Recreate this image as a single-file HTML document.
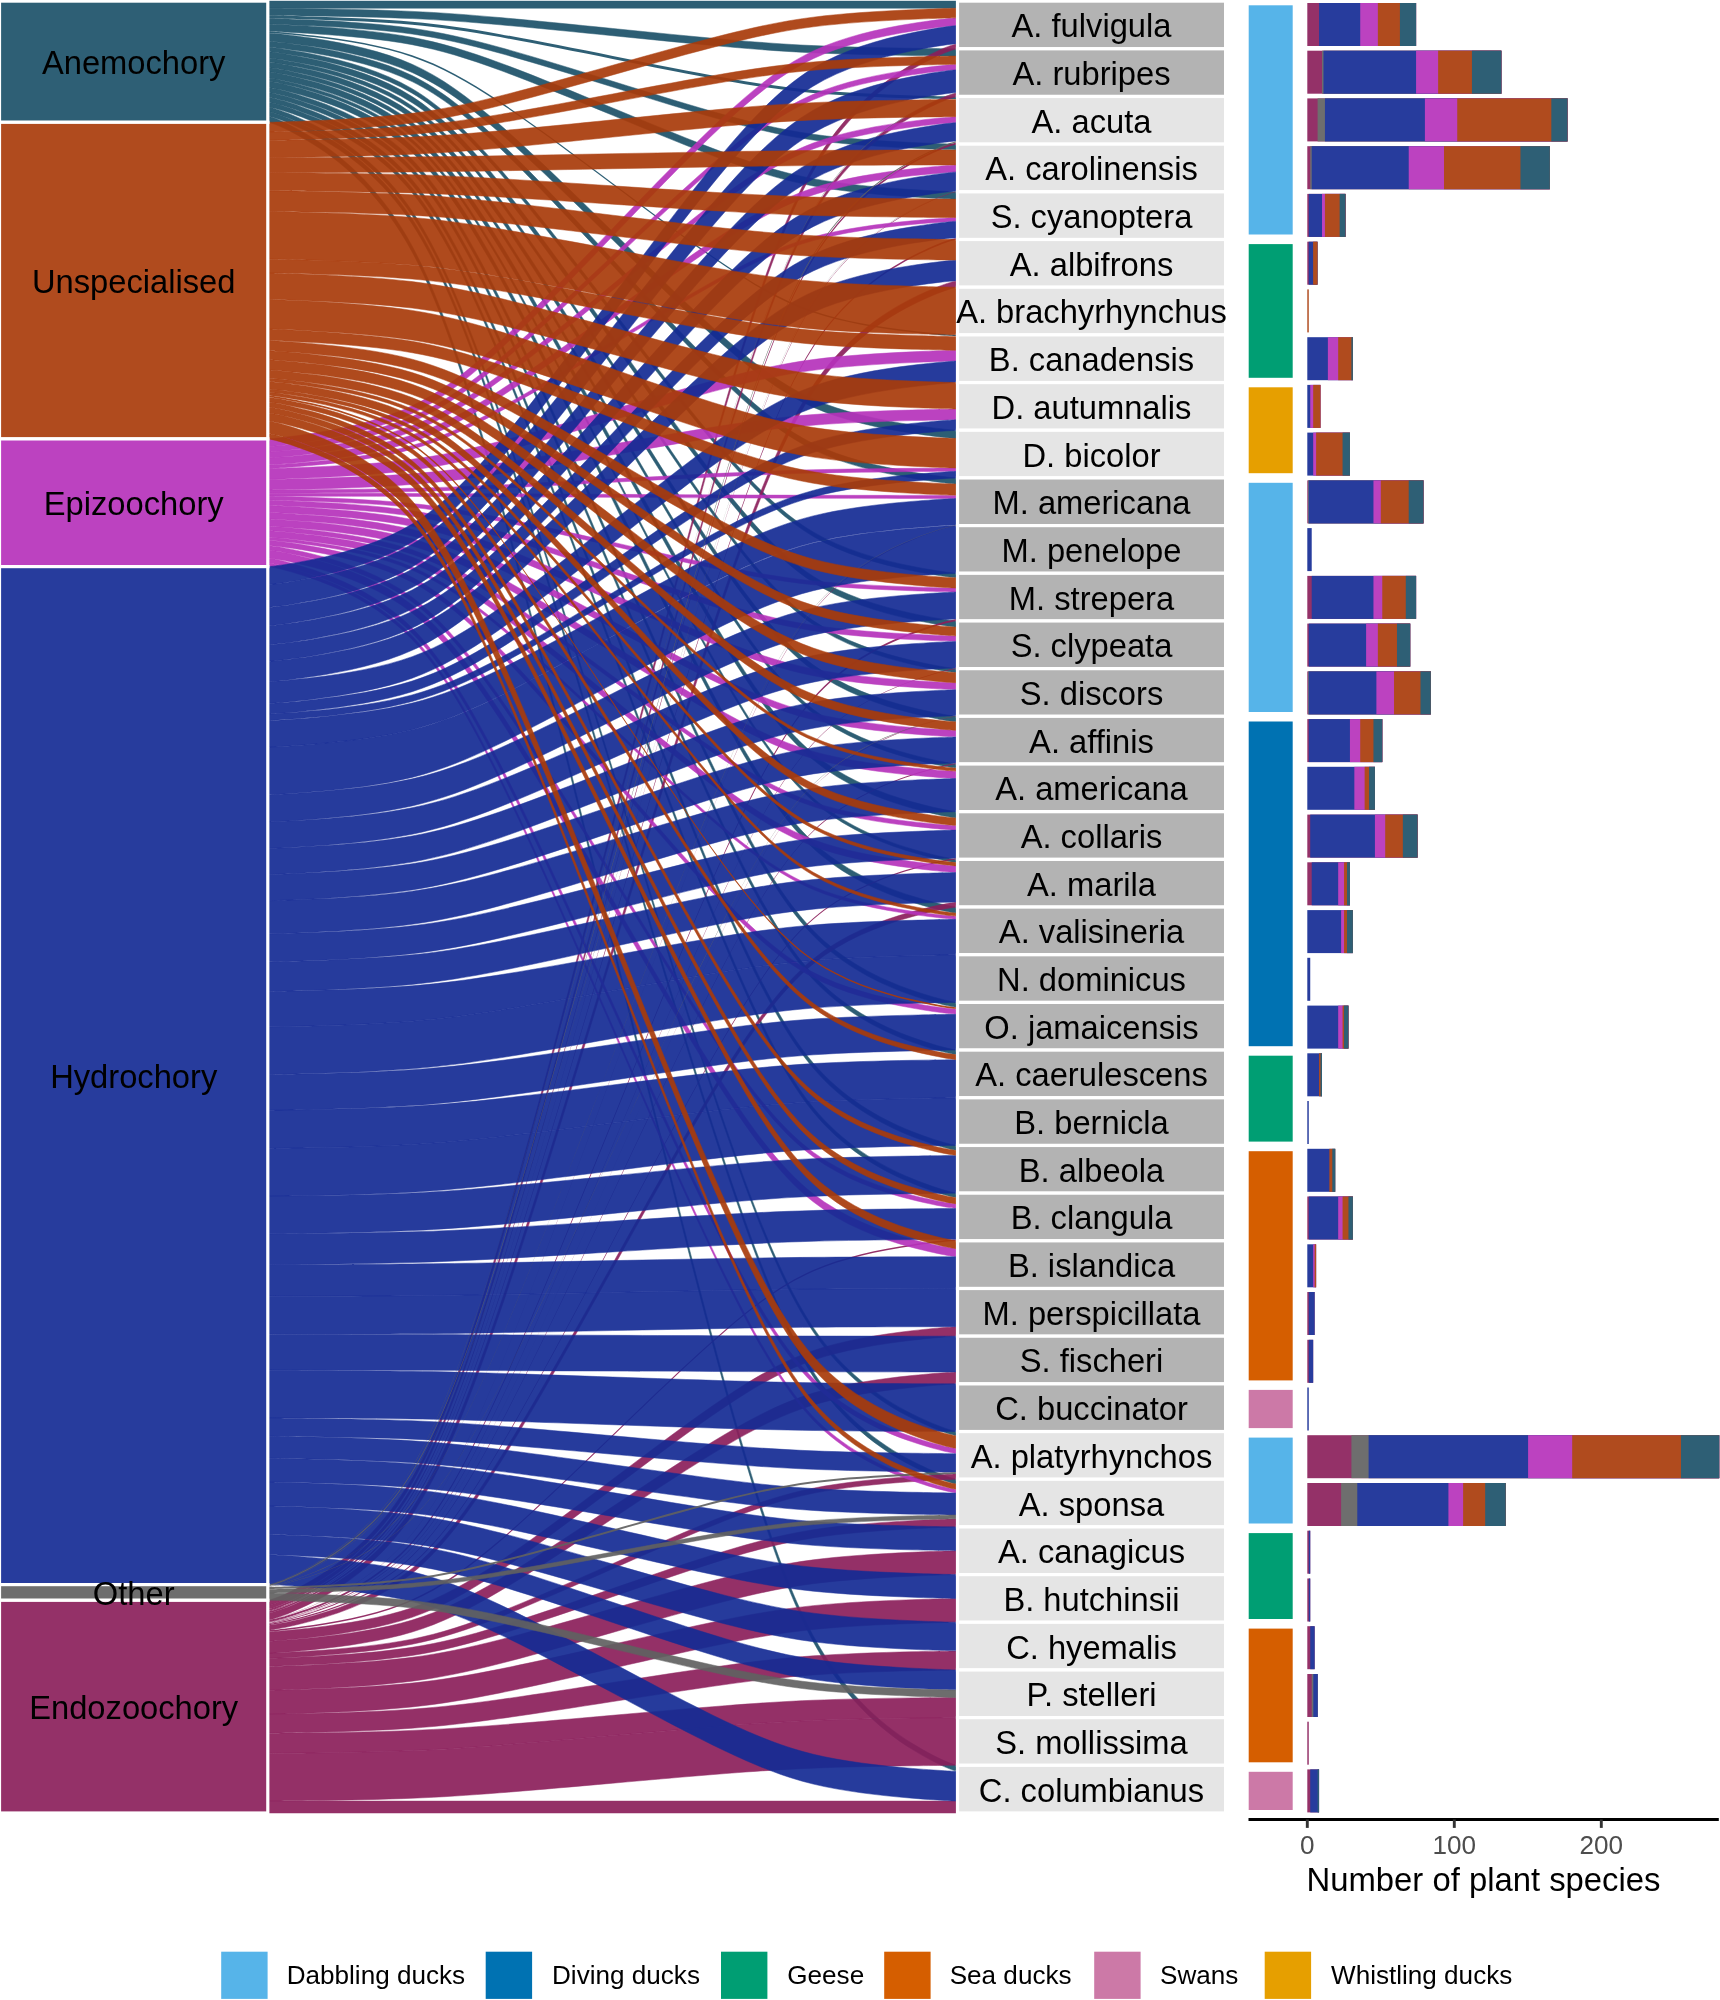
<!DOCTYPE html>
<html lang="en"><head><meta charset="utf-8"><title>Dispersal syndromes of plants consumed by waterfowl</title>
<style>html,body{margin:0;padding:0;background:#fff}body{width:1720px;height:2000px;overflow:hidden}svg{display:block}text{font-family:"Liberation Sans",Arial,Helvetica,sans-serif}.b{font-size:32.7px;fill:#000;text-anchor:middle}.s{font-size:26.1px;fill:#000}.t{font-size:26.1px;fill:#4d4d4d;text-anchor:middle}.f path{opacity:0.92;stroke-width:0.5}.f path.n{stroke:none}</style></head><body>
<svg width="1720" height="2000" viewBox="0 0 1720 2000">
<rect width="1720" height="2000" fill="#fff"/>
<g class="f" fill="#1C5169" stroke="#1C5169">
<path d="M267.8,1.1L957.5,1.1L957.5,8.19L267.8,8.19Z"/>
<path d="M267.8,8.19C267.8,8.19 280.1,8.23 313.2,8.73C346.2,9.23 383.1,10.06 412.1,11.38C441,12.7 467.3,14.66 500.1,17.57C532.8,20.49 572.2,24.43 612.7,28.48C653.1,32.54 692.5,36.48 725.2,39.4C758,42.31 784.3,44.27 813.2,45.59C842.2,46.91 879.1,47.74 912.1,48.24C945.2,48.74 957.5,48.78 957.5,48.78L957.5,56.01C957.5,56.01 945.2,55.97 912.1,55.47C879.1,54.97 842.2,54.14 813.2,52.81C784.3,51.49 758,49.54 725.2,46.62C692.5,43.71 653.1,39.76 612.7,35.71C572.2,31.66 532.8,27.71 500.1,24.8C467.3,21.88 441,19.93 412.1,18.6C383.1,17.28 346.2,16.45 313.2,15.95C280.1,15.45 267.8,15.41 267.8,15.41Z"/>
<path d="M267.8,15.41C267.8,15.41 280.1,15.49 313.2,16.49C346.2,17.49 383.1,19.15 412.1,21.78C441,24.42 467.3,28.33 500.1,34.15C532.8,39.97 572.2,47.84 612.7,55.94C653.1,64.03 692.5,71.91 725.2,77.73C758,83.55 784.3,87.45 813.2,90.09C842.2,92.73 879.1,94.39 912.1,95.38C945.2,96.38 957.5,96.46 957.5,96.46L957.5,99.43C957.5,99.43 945.2,99.35 912.1,98.35C879.1,97.35 842.2,95.69 813.2,93.05C784.3,90.41 758,86.51 725.2,80.69C692.5,74.87 653.1,67 612.7,58.9C572.2,50.81 532.8,42.93 500.1,37.11C467.3,31.29 441,27.39 412.1,24.75C383.1,22.11 346.2,20.45 313.2,19.45C280.1,18.46 267.8,18.38 267.8,18.38Z" class="n"/>
<path d="M267.8,18.38C267.8,18.38 280.1,18.5 313.2,20.05C346.2,21.6 383.1,24.17 412.1,28.26C441,32.36 467.3,38.42 500.1,47.45C532.8,56.48 572.2,68.7 612.7,81.26C653.1,93.82 692.5,106.04 725.2,115.07C758,124.1 784.3,130.16 813.2,134.26C842.2,138.35 879.1,140.92 912.1,142.47C945.2,144.02 957.5,144.14 957.5,144.14L957.5,149.92C957.5,149.92 945.2,149.8 912.1,148.25C879.1,146.7 842.2,144.13 813.2,140.04C784.3,135.94 758,129.88 725.2,120.85C692.5,111.82 653.1,99.6 612.7,87.04C572.2,74.48 532.8,62.25 500.1,53.23C467.3,44.2 441,38.14 412.1,34.04C383.1,29.95 346.2,27.38 313.2,25.83C280.1,24.28 267.8,24.16 267.8,24.16Z"/>
<path d="M267.8,24.16C267.8,24.16 280.1,24.32 313.2,26.39C346.2,28.45 383.1,31.88 412.1,37.34C441,42.8 467.3,50.87 500.1,62.91C532.8,74.95 572.2,91.25 612.7,107.99C653.1,124.73 692.5,141.03 725.2,153.07C758,165.11 784.3,173.18 813.2,178.64C842.2,184.1 879.1,187.53 912.1,189.59C945.2,191.66 957.5,191.83 957.5,191.83L957.5,199.16C957.5,199.16 945.2,199 912.1,196.93C879.1,194.86 842.2,191.44 813.2,185.98C784.3,180.52 758,172.44 725.2,160.41C692.5,148.37 653.1,132.07 612.7,115.33C572.2,98.58 532.8,82.28 500.1,70.25C467.3,58.21 441,50.13 412.1,44.67C383.1,39.21 346.2,35.79 313.2,33.72C280.1,31.66 267.8,31.49 267.8,31.49Z"/>
<path d="M267.8,31.49C267.8,31.49 280.1,31.79 313.2,35.53C346.2,39.27 383.1,45.47 412.1,55.34C441,65.22 467.3,79.83 500.1,101.61C532.8,123.4 572.2,152.88 612.7,183.18C653.1,213.48 692.5,242.97 725.2,264.75C758,286.53 784.3,301.14 813.2,311.02C842.2,320.9 879.1,327.1 912.1,330.83C945.2,334.57 957.5,334.87 957.5,334.87L957.5,336.41C957.5,336.41 945.2,336.11 912.1,332.37C879.1,328.63 842.2,322.43 813.2,312.56C784.3,302.68 758,288.07 725.2,266.29C692.5,244.5 653.1,215.02 612.7,184.72C572.2,154.42 532.8,124.93 500.1,103.15C467.3,81.37 441,66.76 412.1,56.88C383.1,47 346.2,40.8 313.2,37.07C280.1,33.33 267.8,33.03 267.8,33.03Z" class="n"/>
<path d="M267.8,33.03C267.8,33.03 280.1,33.42 313.2,38.32C346.2,43.21 383.1,51.33 412.1,64.26C441,77.19 467.3,96.32 500.1,124.84C532.8,153.36 572.2,191.97 612.7,231.63C653.1,271.3 692.5,309.91 725.2,338.42C758,366.94 784.3,386.07 813.2,399C842.2,411.94 879.1,420.05 912.1,424.95C945.2,429.84 957.5,430.23 957.5,430.23L957.5,438.46C957.5,438.46 945.2,438.06 912.1,433.17C879.1,428.27 842.2,420.16 813.2,407.22C784.3,394.29 758,375.16 725.2,346.65C692.5,318.13 653.1,279.52 612.7,239.85C572.2,200.19 532.8,161.58 500.1,133.06C467.3,104.54 441,85.41 412.1,72.48C383.1,59.55 346.2,51.43 313.2,46.54C280.1,41.64 267.8,41.25 267.8,41.25Z"/>
<path d="M267.8,41.25C267.8,41.25 280.1,41.68 313.2,47.06C346.2,52.44 383.1,61.36 412.1,75.58C441,89.8 467.3,110.83 500.1,142.18C532.8,173.53 572.2,215.98 612.7,259.58C653.1,303.19 692.5,345.63 725.2,376.98C758,408.34 784.3,429.36 813.2,443.58C842.2,457.8 879.1,466.72 912.1,472.1C945.2,477.48 957.5,477.92 957.5,477.92L957.5,483.95C957.5,483.95 945.2,483.52 912.1,478.14C879.1,472.76 842.2,463.84 813.2,449.62C784.3,435.4 758,414.37 725.2,383.02C692.5,351.67 653.1,309.23 612.7,265.62C572.2,222.01 532.8,179.57 500.1,148.22C467.3,116.87 441,95.84 412.1,81.62C383.1,67.4 346.2,58.48 313.2,53.1C280.1,47.72 267.8,47.29 267.8,47.29Z"/>
<path d="M267.8,47.29C267.8,47.29 280.1,47.81 313.2,54.29C346.2,60.77 383.1,71.51 412.1,88.64C441,105.77 467.3,131.1 500.1,168.86C532.8,206.63 572.2,257.75 612.7,310.28C653.1,362.81 692.5,413.94 725.2,451.7C758,489.46 784.3,514.8 813.2,531.92C842.2,549.05 879.1,559.8 912.1,566.28C945.2,572.76 957.5,573.28 957.5,573.28L957.5,577.79C957.5,577.79 945.2,577.27 912.1,570.79C879.1,564.31 842.2,553.56 813.2,536.43C784.3,519.31 758,493.97 725.2,456.21C692.5,418.45 653.1,367.32 612.7,314.79C572.2,262.27 532.8,211.14 500.1,173.37C467.3,135.61 441,110.28 412.1,93.15C383.1,76.02 346.2,65.28 313.2,58.8C280.1,52.32 267.8,51.8 267.8,51.8Z"/>
<path d="M267.8,51.8C267.8,51.8 280.1,52.36 313.2,59.37C346.2,66.38 383.1,78.01 412.1,96.55C441,115.08 467.3,142.49 500.1,183.35C532.8,224.22 572.2,279.54 612.7,336.38C653.1,393.22 692.5,448.54 725.2,489.4C758,530.27 784.3,557.68 813.2,576.21C842.2,594.74 879.1,606.37 912.1,613.38C945.2,620.39 957.5,620.96 957.5,620.96L957.5,627.09C957.5,627.09 945.2,626.52 912.1,619.51C879.1,612.5 842.2,600.87 813.2,582.34C784.3,563.81 758,536.4 725.2,495.53C692.5,454.67 653.1,399.35 612.7,342.51C572.2,285.67 532.8,230.35 500.1,189.48C467.3,148.62 441,121.21 412.1,102.68C383.1,84.14 346.2,72.51 313.2,65.5C280.1,58.49 267.8,57.93 267.8,57.93Z"/>
<path d="M267.8,57.93C267.8,57.93 280.1,58.53 313.2,66.06C346.2,73.58 383.1,86.06 412.1,105.94C441,125.83 467.3,155.24 500.1,199.09C532.8,242.93 572.2,302.3 612.7,363.28C653.1,424.27 692.5,483.64 725.2,527.48C758,571.33 784.3,600.74 813.2,620.62C842.2,640.51 879.1,652.99 912.1,660.51C945.2,668.03 957.5,668.64 957.5,668.64L957.5,672.62C957.5,672.62 945.2,672.01 912.1,664.49C879.1,656.96 842.2,644.48 813.2,624.6C784.3,604.71 758,575.3 725.2,531.45C692.5,487.61 653.1,428.25 612.7,367.26C572.2,306.27 532.8,246.91 500.1,203.06C467.3,159.21 441,129.8 412.1,109.92C383.1,90.03 346.2,77.55 313.2,70.03C280.1,62.51 267.8,61.9 267.8,61.9Z"/>
<path d="M267.8,61.9C267.8,61.9 280.1,62.55 313.2,70.61C346.2,78.67 383.1,92.04 412.1,113.35C441,134.66 467.3,166.18 500.1,213.16C532.8,260.15 572.2,323.76 612.7,389.11C653.1,454.46 692.5,518.08 725.2,565.06C758,612.04 784.3,643.56 813.2,664.87C842.2,686.18 879.1,699.55 912.1,707.61C945.2,715.67 957.5,716.32 957.5,716.32L957.5,721.93C957.5,721.93 945.2,721.28 912.1,713.22C879.1,705.16 842.2,691.79 813.2,670.48C784.3,649.17 758,617.65 725.2,570.67C692.5,523.69 653.1,460.07 612.7,394.72C572.2,329.37 532.8,265.76 500.1,218.77C467.3,171.79 441,140.27 412.1,118.96C383.1,97.65 346.2,84.28 313.2,76.22C280.1,68.16 267.8,67.51 267.8,67.51Z"/>
<path d="M267.8,67.51C267.8,67.51 280.1,68.2 313.2,76.78C346.2,85.36 383.1,99.59 412.1,122.27C441,144.95 467.3,178.49 500.1,228.5C532.8,278.5 572.2,346.2 612.7,415.76C653.1,485.31 692.5,553.01 725.2,603.02C758,653.02 784.3,686.56 813.2,709.24C842.2,731.92 879.1,746.15 912.1,754.73C945.2,763.31 957.5,764.01 957.5,764.01L957.5,768.15C957.5,768.15 945.2,767.46 912.1,758.88C879.1,750.3 842.2,736.07 813.2,713.39C784.3,690.71 758,657.17 725.2,607.16C692.5,557.16 653.1,489.46 612.7,419.9C572.2,350.35 532.8,282.65 500.1,232.64C467.3,182.64 441,149.1 412.1,126.42C383.1,103.74 346.2,89.51 313.2,80.93C280.1,72.35 267.8,71.66 267.8,71.66Z"/>
<path d="M267.8,71.66C267.8,71.66 280.1,72.39 313.2,81.51C346.2,90.62 383.1,105.74 412.1,129.84C441,153.94 467.3,189.58 500.1,242.71C532.8,295.84 572.2,367.77 612.7,441.67C653.1,515.57 692.5,587.51 725.2,640.64C758,693.77 784.3,729.41 813.2,753.5C842.2,777.6 879.1,792.72 912.1,801.84C945.2,810.95 957.5,811.69 957.5,811.69L957.5,818.04C957.5,818.04 945.2,817.31 912.1,808.19C879.1,799.08 842.2,783.96 813.2,759.86C784.3,735.76 758,700.12 725.2,646.99C692.5,593.86 653.1,521.93 612.7,448.03C572.2,374.13 532.8,302.19 500.1,249.06C467.3,195.93 441,160.3 412.1,136.2C383.1,112.1 346.2,96.98 313.2,87.86C280.1,78.75 267.8,78.01 267.8,78.01Z"/>
<path d="M267.8,78.01C267.8,78.01 280.1,78.79 313.2,88.42C346.2,98.04 383.1,114 412.1,139.45C441,164.89 467.3,202.52 500.1,258.62C532.8,314.71 572.2,390.66 612.7,468.69C653.1,546.72 692.5,622.67 725.2,678.77C758,734.86 784.3,772.49 813.2,797.93C842.2,823.38 879.1,839.34 912.1,848.97C945.2,858.59 957.5,859.37 957.5,859.37L957.5,862.66C957.5,862.66 945.2,861.88 912.1,852.25C879.1,842.63 842.2,826.67 813.2,801.22C784.3,775.78 758,738.15 725.2,682.05C692.5,625.96 653.1,550.01 612.7,471.98C572.2,393.95 532.8,318 500.1,261.9C467.3,205.81 441,168.18 412.1,142.74C383.1,117.29 346.2,101.33 313.2,91.7C280.1,82.08 267.8,81.3 267.8,81.3Z"/>
<path d="M267.8,81.3C267.8,81.3 280.1,82.12 313.2,92.29C346.2,102.47 383.1,119.34 412.1,146.23C441,173.11 467.3,212.88 500.1,272.16C532.8,331.45 572.2,411.71 612.7,494.18C653.1,576.64 692.5,656.9 725.2,716.19C758,775.47 784.3,815.24 813.2,842.13C842.2,869.01 879.1,885.89 912.1,896.06C945.2,906.23 957.5,907.05 957.5,907.05L957.5,913.2C957.5,913.2 945.2,912.38 912.1,902.21C879.1,892.04 842.2,875.17 813.2,848.28C784.3,821.39 758,781.62 725.2,722.34C692.5,663.05 653.1,582.79 612.7,500.33C572.2,417.87 532.8,337.6 500.1,278.32C467.3,219.03 441,179.27 412.1,152.38C383.1,125.49 346.2,108.62 313.2,98.45C280.1,88.28 267.8,87.45 267.8,87.45Z"/>
<path d="M267.8,87.45C267.8,87.45 280.1,88.36 313.2,99.63C346.2,110.9 383.1,129.6 412.1,159.39C441,189.19 467.3,233.25 500.1,298.94C532.8,364.63 572.2,453.56 612.7,544.93C653.1,636.3 692.5,725.24 725.2,790.93C758,856.62 784.3,900.68 813.2,930.47C842.2,960.27 879.1,978.96 912.1,990.23C945.2,1001.5 957.5,1002.41 957.5,1002.41L957.5,1007.52C957.5,1007.52 945.2,1006.61 912.1,995.34C879.1,984.07 842.2,965.38 813.2,935.58C784.3,905.79 758,861.73 725.2,796.04C692.5,730.35 653.1,641.41 612.7,550.04C572.2,458.67 532.8,369.74 500.1,304.05C467.3,238.36 441,194.29 412.1,164.5C383.1,134.71 346.2,116.01 313.2,104.74C280.1,93.47 267.8,92.56 267.8,92.56Z"/>
<path d="M267.8,92.56C267.8,92.56 280.1,93.52 313.2,105.31C346.2,117.1 383.1,136.67 412.1,167.85C441,199.03 467.3,245.14 500.1,313.89C532.8,382.63 572.2,475.71 612.7,571.33C653.1,666.95 692.5,760.03 725.2,828.77C758,897.52 784.3,943.63 813.2,974.81C842.2,1005.99 879.1,1025.55 912.1,1037.35C945.2,1049.14 957.5,1050.09 957.5,1050.09L957.5,1054.86C957.5,1054.86 945.2,1053.91 912.1,1042.12C879.1,1030.32 842.2,1010.76 813.2,979.58C784.3,948.4 758,902.28 725.2,833.54C692.5,764.79 653.1,671.72 612.7,576.1C572.2,480.47 532.8,387.4 500.1,318.65C467.3,249.91 441,203.8 412.1,172.62C383.1,141.44 346.2,121.87 313.2,110.08C280.1,98.28 267.8,97.33 267.8,97.33Z"/>
<path d="M267.8,97.33C267.8,97.33 280.1,98.37 313.2,111.28C346.2,124.19 383.1,145.61 412.1,179.74C441,213.87 467.3,264.35 500.1,339.59C532.8,414.84 572.2,516.72 612.7,621.39C653.1,726.06 692.5,827.94 725.2,903.19C758,978.44 784.3,1028.92 813.2,1063.05C842.2,1097.18 879.1,1118.59 912.1,1131.5C945.2,1144.42 957.5,1145.46 957.5,1145.46L957.5,1150.48C957.5,1150.48 945.2,1149.43 912.1,1136.52C879.1,1123.61 842.2,1102.2 813.2,1068.07C784.3,1033.94 758,983.46 725.2,908.21C692.5,832.96 653.1,731.08 612.7,626.41C572.2,521.74 532.8,419.86 500.1,344.61C467.3,269.36 441,218.89 412.1,184.76C383.1,150.63 346.2,129.21 313.2,116.3C280.1,103.39 267.8,102.35 267.8,102.35Z"/>
<path d="M267.8,102.35C267.8,102.35 280.1,103.43 313.2,116.87C346.2,130.31 383.1,152.59 412.1,188.11C441,223.63 467.3,276.16 500.1,354.47C532.8,432.79 572.2,538.81 612.7,647.74C653.1,756.67 692.5,862.7 725.2,941.01C758,1019.33 784.3,1071.86 813.2,1107.38C842.2,1142.89 879.1,1165.18 912.1,1178.62C945.2,1192.05 957.5,1193.14 957.5,1193.14L957.5,1197.75C957.5,1197.75 945.2,1196.67 912.1,1183.23C879.1,1169.8 842.2,1147.51 813.2,1111.99C784.3,1076.47 758,1023.94 725.2,945.63C692.5,867.32 653.1,761.29 612.7,652.36C572.2,543.43 532.8,437.4 500.1,359.09C467.3,280.78 441,228.25 412.1,192.73C383.1,157.21 346.2,134.92 313.2,121.49C280.1,108.05 267.8,106.96 267.8,106.96Z"/>
<path d="M267.8,106.96C267.8,106.96 280.1,108.28 313.2,124.6C346.2,140.91 383.1,167.98 412.1,211.11C441,254.24 467.3,318.03 500.1,413.13C532.8,508.23 572.2,636.98 612.7,769.26C653.1,901.53 692.5,1030.29 725.2,1125.38C758,1220.48 784.3,1284.27 813.2,1327.4C842.2,1370.53 879.1,1397.6 912.1,1413.91C945.2,1430.23 957.5,1431.55 957.5,1431.55L957.5,1435.97C957.5,1435.97 945.2,1434.65 912.1,1418.34C879.1,1402.02 842.2,1374.96 813.2,1331.83C784.3,1288.7 758,1224.91 725.2,1129.81C692.5,1034.71 653.1,905.96 612.7,773.68C572.2,641.4 532.8,512.65 500.1,417.55C467.3,322.45 441,258.67 412.1,215.53C383.1,172.4 346.2,145.34 313.2,129.02C280.1,112.71 267.8,111.39 267.8,111.39Z"/>
<path d="M267.8,111.39C267.8,111.39 280.1,112.75 313.2,129.6C346.2,146.45 383.1,174.4 412.1,218.94C441,263.47 467.3,329.35 500.1,427.55C532.8,525.75 572.2,658.71 612.7,795.31C653.1,931.91 692.5,1064.86 725.2,1163.07C758,1261.27 784.3,1327.14 813.2,1371.68C842.2,1416.22 879.1,1444.17 912.1,1461.02C945.2,1477.87 957.5,1479.23 957.5,1479.23L957.5,1484.17C957.5,1484.17 945.2,1482.81 912.1,1465.96C879.1,1449.12 842.2,1421.17 813.2,1376.63C784.3,1332.09 758,1266.21 725.2,1168.01C692.5,1069.81 653.1,936.85 612.7,800.25C572.2,663.66 532.8,530.7 500.1,432.5C467.3,334.29 441,268.42 412.1,223.88C383.1,179.34 346.2,151.39 313.2,134.54C280.1,117.69 267.8,116.33 267.8,116.33Z"/>
<path d="M267.8,116.33C267.8,116.33 280.1,117.97 313.2,138.29C346.2,158.6 383.1,192.29 412.1,245.98C441,299.68 467.3,379.09 500.1,497.48C532.8,615.87 572.2,776.15 612.7,940.83C653.1,1105.5 692.5,1265.78 725.2,1384.17C758,1502.56 784.3,1581.97 813.2,1635.67C842.2,1689.36 879.1,1723.05 912.1,1743.37C945.2,1763.68 957.5,1765.32 957.5,1765.32L957.5,1771.28C957.5,1771.28 945.2,1769.64 912.1,1749.33C879.1,1729.01 842.2,1695.32 813.2,1641.63C784.3,1587.93 758,1508.52 725.2,1390.13C692.5,1271.74 653.1,1111.46 612.7,946.79C572.2,782.11 532.8,621.83 500.1,503.44C467.3,385.05 441,305.64 412.1,251.94C383.1,198.25 346.2,164.56 313.2,144.25C280.1,123.93 267.8,122.29 267.8,122.29Z"/>
</g>
<g class="f" fill="#8B1F5B" stroke="#8B1F5B">
<path d="M267.8,1600.3C267.8,1600.29 280.1,1598.75 313.2,1579.57C346.2,1560.4 383.1,1528.59 412.1,1477.9C441,1427.21 467.3,1352.25 500.1,1240.49C532.8,1128.73 572.2,977.42 612.7,821.96C653.1,666.51 692.5,515.2 725.2,403.43C758,291.67 784.3,216.71 813.2,166.02C842.2,115.33 879.1,83.52 912.1,64.35C945.2,45.18 957.5,43.63 957.5,43.63L957.5,48.78C957.5,48.78 945.2,50.33 912.1,69.5C879.1,88.68 842.2,120.49 813.2,171.17C784.3,221.86 758,296.83 725.2,408.59C692.5,520.35 653.1,671.66 612.7,827.12C572.2,982.57 532.8,1133.88 500.1,1245.64C467.3,1357.4 441,1432.37 412.1,1483.06C383.1,1533.75 346.2,1565.55 313.2,1584.73C280.1,1603.9 267.8,1605.45 267.8,1605.45Z"/>
<path d="M267.8,1605.45C267.8,1605.45 280.1,1603.95 313.2,1585.31C346.2,1566.68 383.1,1535.78 412.1,1486.52C441,1437.27 467.3,1364.42 500.1,1255.83C532.8,1147.23 572.2,1000.2 612.7,849.15C653.1,698.1 692.5,551.07 725.2,442.47C758,333.88 784.3,261.03 813.2,211.78C842.2,162.53 879.1,131.62 912.1,112.99C945.2,94.36 957.5,92.85 957.5,92.85L957.5,96.46C957.5,96.46 945.2,97.97 912.1,116.6C879.1,135.23 842.2,166.14 813.2,215.39C784.3,264.64 758,337.49 725.2,446.08C692.5,554.68 653.1,701.71 612.7,852.76C572.2,1003.82 532.8,1150.84 500.1,1259.44C467.3,1368.04 441,1440.88 412.1,1490.13C383.1,1539.39 346.2,1570.29 313.2,1588.93C280.1,1607.56 267.8,1609.06 267.8,1609.06Z"/>
<path d="M267.8,1609.06C267.8,1609.06 280.1,1607.6 313.2,1589.54C346.2,1571.47 383.1,1541.5 412.1,1493.74C441,1445.97 467.3,1375.33 500.1,1270.03C532.8,1164.72 572.2,1022.14 612.7,875.66C653.1,729.18 692.5,586.6 725.2,481.3C758,375.99 784.3,305.35 813.2,257.59C842.2,209.82 879.1,179.85 912.1,161.79C945.2,143.72 957.5,142.26 957.5,142.26L957.5,144.14C957.5,144.15 945.2,145.6 912.1,163.67C879.1,181.74 842.2,211.71 813.2,259.47C784.3,307.23 758,377.87 725.2,483.18C692.5,588.49 653.1,731.07 612.7,877.55C572.2,1024.03 532.8,1166.6 500.1,1271.91C467.3,1377.22 441,1447.86 412.1,1495.62C383.1,1543.38 346.2,1573.35 313.2,1591.42C280.1,1609.49 267.8,1610.95 267.8,1610.95Z" class="n"/>
<path d="M267.8,1610.95C267.8,1610.95 280.1,1609.54 313.2,1592.05C346.2,1574.56 383.1,1545.55 412.1,1499.32C441,1453.1 467.3,1384.73 500.1,1282.8C532.8,1180.87 572.2,1042.87 612.7,901.1C653.1,759.32 692.5,621.32 725.2,519.4C758,417.47 784.3,349.1 813.2,302.87C842.2,256.64 879.1,227.64 912.1,210.15C945.2,192.66 957.5,191.25 957.5,191.25L957.5,191.83C957.5,191.83 945.2,193.24 912.1,210.73C879.1,228.21 842.2,257.22 813.2,303.45C784.3,349.68 758,418.05 725.2,519.98C692.5,621.9 653.1,759.9 612.7,901.68C572.2,1043.45 532.8,1181.45 500.1,1283.38C467.3,1385.3 441,1453.67 412.1,1499.9C383.1,1546.13 346.2,1575.14 313.2,1592.63C280.1,1610.11 267.8,1611.53 267.8,1611.53Z" class="n"/>
<path d="M267.8,1611.53C267.8,1611.53 280.1,1610.16 313.2,1593.24C346.2,1576.31 383.1,1548.24 412.1,1503.51C441,1458.77 467.3,1392.61 500.1,1293.97C532.8,1195.34 572.2,1061.8 612.7,924.6C653.1,787.4 692.5,653.86 725.2,555.23C758,456.59 784.3,390.43 813.2,345.69C842.2,300.96 879.1,272.89 912.1,255.96C945.2,239.04 957.5,237.67 957.5,237.67L957.5,239.51C957.5,239.51 945.2,240.87 912.1,257.8C879.1,274.72 842.2,302.79 813.2,347.53C784.3,392.26 758,458.42 725.2,557.06C692.5,655.69 653.1,789.24 612.7,926.43C572.2,1063.63 532.8,1197.17 500.1,1295.81C467.3,1394.44 441,1460.61 412.1,1505.34C383.1,1550.08 346.2,1578.15 313.2,1595.07C280.1,1611.99 267.8,1613.36 267.8,1613.36Z" class="n"/>
<path d="M267.8,1613.36C267.8,1613.36 280.1,1612.03 313.2,1595.62C346.2,1579.2 383.1,1551.97 412.1,1508.58C441,1465.18 467.3,1401 500.1,1305.32C532.8,1209.64 572.2,1080.1 612.7,947.02C653.1,813.93 692.5,684.39 725.2,588.71C758,493.03 784.3,428.85 813.2,385.45C842.2,342.06 879.1,314.83 912.1,298.41C945.2,282 957.5,280.67 957.5,280.67L957.5,287.19C957.5,287.19 945.2,288.51 912.1,304.93C879.1,321.35 842.2,348.58 813.2,391.97C784.3,435.37 758,499.55 725.2,595.23C692.5,690.91 653.1,820.45 612.7,953.53C572.2,1086.62 532.8,1216.16 500.1,1311.84C467.3,1407.52 441,1471.7 412.1,1515.1C383.1,1558.49 346.2,1585.72 313.2,1602.14C280.1,1618.55 267.8,1619.88 267.8,1619.88Z"/>
<path d="M267.8,1619.88C267.8,1619.88 280.1,1618.79 313.2,1605.31C346.2,1591.82 383.1,1569.46 412.1,1533.82C441,1498.17 467.3,1445.46 500.1,1366.88C532.8,1288.29 572.2,1181.9 612.7,1072.59C653.1,963.28 692.5,856.88 725.2,778.3C758,699.71 784.3,647 813.2,611.36C842.2,575.71 879.1,553.35 912.1,539.87C945.2,526.38 957.5,525.3 957.5,525.3L957.5,525.6C957.5,525.6 945.2,526.69 912.1,540.17C879.1,553.65 842.2,576.02 813.2,611.66C784.3,647.3 758,700.01 725.2,778.6C692.5,857.18 653.1,963.58 612.7,1072.89C572.2,1182.2 532.8,1288.59 500.1,1367.18C467.3,1445.76 441,1498.48 412.1,1534.12C383.1,1569.76 346.2,1592.12 313.2,1605.61C280.1,1619.09 267.8,1620.18 267.8,1620.18Z" class="n"/>
<path d="M267.8,1620.18C267.8,1620.18 280.1,1619.18 313.2,1606.85C346.2,1594.52 383.1,1574.06 412.1,1541.46C441,1508.86 467.3,1460.65 500.1,1388.77C532.8,1316.9 572.2,1219.58 612.7,1119.6C653.1,1019.62 692.5,922.31 725.2,850.43C758,778.56 784.3,730.34 813.2,697.74C842.2,665.14 879.1,644.69 912.1,632.36C945.2,620.02 957.5,619.03 957.5,619.03L957.5,620.96C957.5,620.96 945.2,621.96 912.1,634.29C879.1,646.62 842.2,667.08 813.2,699.68C784.3,732.28 758,780.49 725.2,852.37C692.5,924.24 653.1,1021.56 612.7,1121.54C572.2,1221.52 532.8,1318.83 500.1,1390.71C467.3,1462.58 441,1510.8 412.1,1543.4C383.1,1576 346.2,1596.45 313.2,1608.78C280.1,1621.12 267.8,1622.11 267.8,1622.11Z" class="n"/>
<path d="M267.8,1622.11C267.8,1622.11 280.1,1621.16 313.2,1609.41C346.2,1597.66 383.1,1578.16 412.1,1547.09C441,1516.02 467.3,1470.07 500.1,1401.57C532.8,1333.07 572.2,1240.32 612.7,1145.04C653.1,1049.75 692.5,957.01 725.2,888.5C758,820 784.3,774.05 813.2,742.98C842.2,711.91 879.1,692.42 912.1,680.66C945.2,668.91 957.5,667.96 957.5,667.96L957.5,668.64C957.5,668.64 945.2,669.59 912.1,681.34C879.1,693.1 842.2,712.59 813.2,743.66C784.3,774.73 758,820.68 725.2,889.18C692.5,957.69 653.1,1050.43 612.7,1145.72C572.2,1241 532.8,1333.75 500.1,1402.25C467.3,1470.75 441,1516.7 412.1,1547.77C383.1,1578.84 346.2,1598.34 313.2,1610.09C280.1,1621.84 267.8,1622.79 267.8,1622.79Z" class="n"/>
<path d="M267.8,1622.79C267.8,1622.79 280.1,1621.89 313.2,1610.72C346.2,1599.55 383.1,1581.03 412.1,1551.5C441,1521.97 467.3,1478.31 500.1,1413.21C532.8,1348.11 572.2,1259.97 612.7,1169.42C653.1,1078.86 692.5,990.73 725.2,925.63C758,860.53 784.3,816.86 813.2,787.33C842.2,757.81 879.1,739.28 912.1,728.11C945.2,716.94 957.5,716.04 957.5,716.04L957.5,716.32C957.5,716.32 945.2,717.23 912.1,728.39C879.1,739.56 842.2,758.09 813.2,787.62C784.3,817.14 758,860.81 725.2,925.91C692.5,991.01 653.1,1079.15 612.7,1169.7C572.2,1260.25 532.8,1348.39 500.1,1413.49C467.3,1478.59 441,1522.26 412.1,1551.78C383.1,1581.31 346.2,1599.84 313.2,1611.01C280.1,1622.18 267.8,1623.08 267.8,1623.08Z" class="n"/>
<path d="M267.8,1623.08C267.8,1623.08 280.1,1622.22 313.2,1611.63C346.2,1601.03 383.1,1583.46 412.1,1555.46C441,1527.46 467.3,1486.04 500.1,1424.3C532.8,1362.55 572.2,1278.96 612.7,1193.07C653.1,1107.19 692.5,1023.6 725.2,961.85C758,900.11 784.3,858.69 813.2,830.69C842.2,802.68 879.1,785.11 912.1,774.52C945.2,763.93 957.5,763.07 957.5,763.07L957.5,764.01C957.5,764.01 945.2,764.86 912.1,775.45C879.1,786.05 842.2,803.62 813.2,831.62C784.3,859.63 758,901.04 725.2,962.79C692.5,1024.53 653.1,1108.13 612.7,1194.01C572.2,1279.89 532.8,1363.49 500.1,1425.23C467.3,1486.97 441,1528.39 412.1,1556.39C383.1,1584.4 346.2,1601.97 313.2,1612.56C280.1,1623.16 267.8,1624.01 267.8,1624.01Z" class="n"/>
<path d="M267.8,1624.01C267.8,1624.01 280.1,1623.25 313.2,1613.82C346.2,1604.38 383.1,1588.73 412.1,1563.79C441,1538.85 467.3,1501.97 500.1,1446.98C532.8,1391.99 572.2,1317.54 612.7,1241.05C653.1,1164.57 692.5,1090.12 725.2,1035.13C758,980.14 784.3,943.26 813.2,918.32C842.2,893.38 879.1,877.73 912.1,868.29C945.2,858.86 957.5,858.1 957.5,858.1L957.5,859.37C957.5,859.37 945.2,860.13 912.1,869.56C879.1,879 842.2,894.65 813.2,919.59C784.3,944.53 758,981.41 725.2,1036.4C692.5,1091.39 653.1,1165.84 612.7,1242.33C572.2,1318.81 532.8,1393.26 500.1,1448.25C467.3,1503.24 441,1540.12 412.1,1565.06C383.1,1590 346.2,1605.65 313.2,1615.09C280.1,1624.52 267.8,1625.28 267.8,1625.28Z" class="n"/>
<path d="M267.8,1625.28C267.8,1625.28 280.1,1624.56 313.2,1615.66C346.2,1606.75 383.1,1591.97 412.1,1568.42C441,1544.88 467.3,1510.05 500.1,1458.13C532.8,1406.21 572.2,1335.92 612.7,1263.7C653.1,1191.48 692.5,1121.19 725.2,1069.27C758,1017.35 784.3,982.52 813.2,958.98C842.2,935.43 879.1,920.65 912.1,911.74C945.2,902.84 957.5,902.12 957.5,902.12L957.5,907.05C957.5,907.05 945.2,907.77 912.1,916.68C879.1,925.59 842.2,940.36 813.2,963.91C784.3,987.46 758,1022.28 725.2,1074.2C692.5,1126.12 653.1,1196.42 612.7,1268.63C572.2,1340.85 532.8,1411.14 500.1,1463.06C467.3,1514.98 441,1549.81 412.1,1573.36C383.1,1596.91 346.2,1611.68 313.2,1620.59C280.1,1629.5 267.8,1630.22 267.8,1630.22Z"/>
<path d="M267.8,1630.22C267.8,1630.22 280.1,1629.83 313.2,1625.01C346.2,1620.2 383.1,1612.21 412.1,1599.48C441,1586.75 467.3,1567.92 500.1,1539.86C532.8,1511.79 572.2,1473.79 612.7,1434.75C653.1,1395.71 692.5,1357.71 725.2,1329.64C758,1301.58 784.3,1282.75 813.2,1270.02C842.2,1257.29 879.1,1249.3 912.1,1244.49C945.2,1239.67 957.5,1239.28 957.5,1239.28L957.5,1240.82C957.5,1240.82 945.2,1241.21 912.1,1246.03C879.1,1250.84 842.2,1258.83 813.2,1271.56C784.3,1284.29 758,1303.11 725.2,1331.18C692.5,1359.25 653.1,1397.25 612.7,1436.29C572.2,1475.33 532.8,1513.33 500.1,1541.39C467.3,1569.46 441,1588.29 412.1,1601.02C383.1,1613.75 346.2,1621.73 313.2,1626.55C280.1,1631.37 267.8,1631.75 267.8,1631.75Z" class="n"/>
<path d="M267.8,1631.75C267.8,1631.75 280.1,1631.45 313.2,1627.69C346.2,1623.93 383.1,1617.7 412.1,1607.77C441,1597.83 467.3,1583.14 500.1,1561.23C532.8,1539.33 572.2,1509.67 612.7,1479.2C653.1,1448.73 692.5,1419.08 725.2,1397.17C758,1375.27 784.3,1360.57 813.2,1350.64C842.2,1340.7 879.1,1334.47 912.1,1330.71C945.2,1326.95 957.5,1326.65 957.5,1326.65L957.5,1336.18C957.5,1336.18 945.2,1336.49 912.1,1340.25C879.1,1344 842.2,1350.24 813.2,1360.17C784.3,1370.11 758,1384.8 725.2,1406.71C692.5,1428.61 653.1,1458.27 612.7,1488.74C572.2,1519.21 532.8,1548.86 500.1,1570.77C467.3,1592.67 441,1607.37 412.1,1617.3C383.1,1627.24 346.2,1633.47 313.2,1637.23C280.1,1640.99 267.8,1641.29 267.8,1641.29Z"/>
<path d="M267.8,1641.29C267.8,1641.29 280.1,1641.02 313.2,1637.71C346.2,1634.39 383.1,1628.88 412.1,1620.11C441,1611.34 467.3,1598.37 500.1,1579.03C532.8,1559.7 572.2,1533.52 612.7,1506.62C653.1,1479.72 692.5,1453.54 725.2,1434.2C758,1414.86 784.3,1401.89 813.2,1393.12C842.2,1384.35 879.1,1378.85 912.1,1375.53C945.2,1372.21 957.5,1371.95 957.5,1371.95L957.5,1383.87C957.5,1383.87 945.2,1384.13 912.1,1387.45C879.1,1390.77 842.2,1396.27 813.2,1405.04C784.3,1413.81 758,1426.78 725.2,1446.12C692.5,1465.46 653.1,1491.64 612.7,1518.54C572.2,1545.44 532.8,1571.62 500.1,1590.95C467.3,1610.29 441,1623.26 412.1,1632.03C383.1,1640.8 346.2,1646.31 313.2,1649.63C280.1,1652.94 267.8,1653.21 267.8,1653.21Z"/>
<path d="M267.8,1653.21C267.8,1653.21 280.1,1653.03 313.2,1650.83C346.2,1648.62 383.1,1644.96 412.1,1639.13C441,1633.3 467.3,1624.67 500.1,1611.82C532.8,1598.96 572.2,1581.55 612.7,1563.67C653.1,1545.78 692.5,1528.38 725.2,1515.52C758,1502.66 784.3,1494.04 813.2,1488.2C842.2,1482.37 879.1,1478.71 912.1,1476.51C945.2,1474.3 957.5,1474.12 957.5,1474.12L957.5,1479.23C957.5,1479.23 945.2,1479.41 912.1,1481.61C879.1,1483.82 842.2,1487.48 813.2,1493.31C784.3,1499.14 758,1507.77 725.2,1520.62C692.5,1533.48 653.1,1550.89 612.7,1568.77C572.2,1586.66 532.8,1604.06 500.1,1616.92C467.3,1629.78 441,1638.4 412.1,1644.24C383.1,1650.07 346.2,1653.73 313.2,1655.93C280.1,1658.14 267.8,1658.32 267.8,1658.32Z"/>
<path d="M267.8,1658.32C267.8,1658.32 280.1,1658.18 313.2,1656.46C346.2,1654.74 383.1,1651.89 412.1,1647.35C441,1642.8 467.3,1636.08 500.1,1626.07C532.8,1616.05 572.2,1602.49 612.7,1588.55C653.1,1574.62 692.5,1561.06 725.2,1551.04C758,1541.02 784.3,1534.3 813.2,1529.76C842.2,1525.21 879.1,1522.36 912.1,1520.64C945.2,1518.93 957.5,1518.79 957.5,1518.79L957.5,1526.91C957.5,1526.91 945.2,1527.05 912.1,1528.77C879.1,1530.49 842.2,1533.34 813.2,1537.88C784.3,1542.42 758,1549.14 725.2,1559.16C692.5,1569.18 653.1,1582.74 612.7,1596.68C572.2,1610.61 532.8,1624.17 500.1,1634.19C467.3,1644.21 441,1650.93 412.1,1655.47C383.1,1660.01 346.2,1662.86 313.2,1664.58C280.1,1666.3 267.8,1666.44 267.8,1666.44Z"/>
<path d="M267.8,1666.44C267.8,1666.44 280.1,1666.32 313.2,1664.9C346.2,1663.47 383.1,1661.11 412.1,1657.34C441,1653.58 467.3,1648.01 500.1,1639.7C532.8,1631.39 572.2,1620.15 612.7,1608.6C653.1,1597.04 692.5,1585.8 725.2,1577.49C758,1569.19 784.3,1563.61 813.2,1559.85C842.2,1556.08 879.1,1553.72 912.1,1552.29C945.2,1550.87 957.5,1550.75 957.5,1550.75L957.5,1574.59C957.5,1574.59 945.2,1574.71 912.1,1576.13C879.1,1577.56 842.2,1579.92 813.2,1583.69C784.3,1587.46 758,1593.03 725.2,1601.33C692.5,1609.64 653.1,1620.88 612.7,1632.44C572.2,1643.99 532.8,1655.23 500.1,1663.54C467.3,1671.85 441,1677.42 412.1,1681.18C383.1,1684.95 346.2,1687.32 313.2,1688.74C280.1,1690.17 267.8,1690.28 267.8,1690.28Z"/>
<path d="M267.8,1690.28C267.8,1690.28 280.1,1690.19 313.2,1689.06C346.2,1687.93 383.1,1686.05 412.1,1683.06C441,1680.07 467.3,1675.65 500.1,1669.05C532.8,1662.46 572.2,1653.53 612.7,1644.36C653.1,1635.18 692.5,1626.26 725.2,1619.66C758,1613.07 784.3,1608.65 813.2,1605.65C842.2,1602.66 879.1,1600.79 912.1,1599.66C945.2,1598.52 957.5,1598.43 957.5,1598.43L957.5,1622.27C957.5,1622.27 945.2,1622.37 912.1,1623.5C879.1,1624.63 842.2,1626.5 813.2,1629.5C784.3,1632.49 758,1636.91 725.2,1643.5C692.5,1650.1 653.1,1659.03 612.7,1668.2C572.2,1677.37 532.8,1686.3 500.1,1692.89C467.3,1699.49 441,1703.91 412.1,1706.9C383.1,1709.89 346.2,1711.77 313.2,1712.9C280.1,1714.03 267.8,1714.12 267.8,1714.12Z"/>
<path d="M267.8,1714.12C267.8,1714.12 280.1,1714.06 313.2,1713.28C346.2,1712.5 383.1,1711.21 412.1,1709.15C441,1707.09 467.3,1704.04 500.1,1699.5C532.8,1694.96 572.2,1688.82 612.7,1682.5C653.1,1676.19 692.5,1670.04 725.2,1665.5C758,1660.96 784.3,1657.91 813.2,1655.85C842.2,1653.8 879.1,1652.5 912.1,1651.72C945.2,1650.95 957.5,1650.88 957.5,1650.88L957.5,1669.96C957.5,1669.96 945.2,1670.02 912.1,1670.8C879.1,1671.58 842.2,1672.87 813.2,1674.93C784.3,1676.99 758,1680.03 725.2,1684.57C692.5,1689.11 653.1,1695.26 612.7,1701.57C572.2,1707.89 532.8,1714.04 500.1,1718.58C467.3,1723.12 441,1726.16 412.1,1728.22C383.1,1730.28 346.2,1731.57 313.2,1732.35C280.1,1733.13 267.8,1733.19 267.8,1733.19Z"/>
<path d="M267.8,1733.19C267.8,1733.19 280.1,1733.16 313.2,1732.72C346.2,1732.28 383.1,1731.55 412.1,1730.38C441,1729.22 467.3,1727.5 500.1,1724.93C532.8,1722.36 572.2,1718.88 612.7,1715.31C653.1,1711.74 692.5,1708.27 725.2,1705.7C758,1703.13 784.3,1701.41 813.2,1700.24C842.2,1699.08 879.1,1698.35 912.1,1697.91C945.2,1697.47 957.5,1697.43 957.5,1697.43L957.5,1717.64C957.5,1717.64 945.2,1717.67 912.1,1718.11C879.1,1718.55 842.2,1719.28 813.2,1720.45C784.3,1721.61 758,1723.34 725.2,1725.9C692.5,1728.47 653.1,1731.95 612.7,1735.52C572.2,1739.09 532.8,1742.56 500.1,1745.13C467.3,1747.7 441,1749.42 412.1,1750.59C383.1,1751.75 346.2,1752.48 313.2,1752.92C280.1,1753.36 267.8,1753.4 267.8,1753.4Z"/>
<path d="M267.8,1753.4C267.8,1753.4 280.1,1753.36 313.2,1752.92C346.2,1752.48 383.1,1751.75 412.1,1750.59C441,1749.42 467.3,1747.7 500.1,1745.13C532.8,1742.56 572.2,1739.09 612.7,1735.52C653.1,1731.95 692.5,1728.47 725.2,1725.9C758,1723.34 784.3,1721.61 813.2,1720.45C842.2,1719.28 879.1,1718.55 912.1,1718.11C945.2,1717.67 957.5,1717.64 957.5,1717.64L957.5,1765.32C957.5,1765.32 945.2,1765.35 912.1,1765.79C879.1,1766.23 842.2,1766.97 813.2,1768.13C784.3,1769.29 758,1771.02 725.2,1773.58C692.5,1776.15 653.1,1779.63 612.7,1783.2C572.2,1786.77 532.8,1790.25 500.1,1792.81C467.3,1795.38 441,1797.1 412.1,1798.27C383.1,1799.43 346.2,1800.16 313.2,1800.6C280.1,1801.04 267.8,1801.08 267.8,1801.08Z"/>
<path d="M267.8,1801.08L957.5,1801.08L957.5,1813L267.8,1813Z"/>
</g>
<g class="f" fill="#B632BB" stroke="#B632BB">
<path d="M267.8,438.91C267.8,438.91 280.1,438.49 313.2,433.31C346.2,428.12 383.1,419.52 412.1,405.81C441,392.1 467.3,371.82 500.1,341.59C532.8,311.36 572.2,270.43 612.7,228.38C653.1,186.33 692.5,145.41 725.2,115.18C758,84.95 784.3,64.67 813.2,50.96C842.2,37.25 879.1,28.64 912.1,23.46C945.2,18.27 957.5,17.85 957.5,17.85L957.5,25.59C957.5,25.59 945.2,26 912.1,31.19C879.1,36.38 842.2,44.98 813.2,58.69C784.3,72.4 758,92.68 725.2,122.91C692.5,153.14 653.1,194.07 612.7,236.12C572.2,278.16 532.8,319.09 500.1,349.32C467.3,379.55 441,399.83 412.1,413.54C383.1,427.25 346.2,435.85 313.2,441.04C280.1,446.23 267.8,446.65 267.8,446.65Z"/>
<path d="M267.8,446.65C267.8,446.65 280.1,446.27 313.2,441.56C346.2,436.85 383.1,429.03 412.1,416.58C441,404.14 467.3,385.72 500.1,358.27C532.8,330.82 572.2,293.66 612.7,255.48C653.1,217.3 692.5,180.14 725.2,152.69C758,125.24 784.3,106.82 813.2,94.37C842.2,81.93 879.1,74.11 912.1,69.4C945.2,64.69 957.5,64.31 957.5,64.31L957.5,69.73C957.5,69.73 945.2,70.11 912.1,74.82C879.1,79.53 842.2,87.34 813.2,99.79C784.3,112.24 758,130.66 725.2,158.1C692.5,185.55 653.1,222.72 612.7,260.9C572.2,299.08 532.8,336.24 500.1,363.69C467.3,391.14 441,409.55 412.1,422C383.1,434.45 346.2,442.26 313.2,446.97C280.1,451.68 267.8,452.06 267.8,452.06Z"/>
<path d="M267.8,452.06C267.8,452.06 280.1,451.73 313.2,447.6C346.2,443.47 383.1,436.61 412.1,425.69C441,414.77 467.3,398.62 500.1,374.54C532.8,350.46 572.2,317.86 612.7,284.37C653.1,250.87 692.5,218.27 725.2,194.19C758,170.11 784.3,153.96 813.2,143.04C842.2,132.12 879.1,125.26 912.1,121.13C945.2,117 957.5,116.67 957.5,116.67L957.5,122.59C957.5,122.59 945.2,122.93 912.1,127.06C879.1,131.19 842.2,138.04 813.2,148.96C784.3,159.89 758,176.04 725.2,200.12C692.5,224.2 653.1,256.8 612.7,290.29C572.2,323.79 532.8,356.39 500.1,380.47C467.3,404.55 441,420.7 412.1,431.62C383.1,442.54 346.2,449.39 313.2,453.53C280.1,457.66 267.8,457.99 267.8,457.99Z"/>
<path d="M267.8,457.99C267.8,457.99 280.1,457.7 313.2,454.09C346.2,450.48 383.1,444.49 412.1,434.95C441,425.41 467.3,411.3 500.1,390.26C532.8,369.22 572.2,340.73 612.7,311.47C653.1,282.21 692.5,253.72 725.2,232.68C758,211.65 784.3,197.53 813.2,187.99C842.2,178.45 879.1,172.46 912.1,168.85C945.2,165.24 957.5,164.95 957.5,164.95L957.5,171.89C957.5,171.89 945.2,172.18 912.1,175.79C879.1,179.4 842.2,185.38 813.2,194.93C784.3,204.47 758,218.58 725.2,239.62C692.5,260.66 653.1,289.14 612.7,318.41C572.2,347.67 532.8,376.15 500.1,397.19C467.3,418.23 441,432.34 412.1,441.89C383.1,451.43 346.2,457.42 313.2,461.02C280.1,464.63 267.8,464.93 267.8,464.93Z"/>
<path d="M267.8,464.93C267.8,464.93 280.1,464.68 313.2,461.63C346.2,458.58 383.1,453.53 412.1,445.47C441,437.42 467.3,425.5 500.1,407.74C532.8,389.97 572.2,365.92 612.7,341.21C653.1,316.5 692.5,292.45 725.2,274.69C758,256.93 784.3,245.01 813.2,236.95C842.2,228.9 879.1,223.84 912.1,220.79C945.2,217.75 957.5,217.5 957.5,217.5L957.5,221.17C957.5,221.17 945.2,221.41 912.1,224.46C879.1,227.51 842.2,232.57 813.2,240.62C784.3,248.68 758,260.59 725.2,278.36C692.5,296.12 653.1,320.17 612.7,344.88C572.2,369.59 532.8,393.64 500.1,411.4C467.3,429.17 441,441.08 412.1,449.14C383.1,457.2 346.2,462.25 313.2,465.3C280.1,468.35 267.8,468.59 267.8,468.59Z"/>
<path d="M267.8,468.59C267.8,468.59 280.1,468.48 313.2,467.02C346.2,465.56 383.1,463.14 412.1,459.29C441,455.44 467.3,449.74 500.1,441.24C532.8,432.74 572.2,421.24 612.7,409.42C653.1,397.6 692.5,386.1 725.2,377.61C758,369.11 784.3,363.41 813.2,359.56C842.2,355.7 879.1,353.29 912.1,351.83C945.2,350.37 957.5,350.25 957.5,350.25L957.5,361.02C957.5,361.02 945.2,361.14 912.1,362.59C879.1,364.05 842.2,366.47 813.2,370.32C784.3,374.18 758,379.88 725.2,388.37C692.5,396.87 653.1,408.37 612.7,420.19C572.2,432.01 532.8,443.51 500.1,452.01C467.3,460.5 441,466.2 412.1,470.06C383.1,473.91 346.2,476.33 313.2,477.79C280.1,479.24 267.8,479.36 267.8,479.36Z"/>
<path d="M267.8,479.36C267.8,479.36 280.1,479.29 313.2,478.42C346.2,477.56 383.1,476.12 412.1,473.83C441,471.54 467.3,468.16 500.1,463.11C532.8,458.06 572.2,451.22 612.7,444.2C653.1,437.18 692.5,430.34 725.2,425.3C758,420.25 784.3,416.86 813.2,414.57C842.2,412.28 879.1,410.84 912.1,409.98C945.2,409.11 957.5,409.04 957.5,409.04L957.5,419.64C957.5,419.64 945.2,419.71 912.1,420.57C879.1,421.44 842.2,422.88 813.2,425.17C784.3,427.46 758,430.84 725.2,435.89C692.5,440.94 653.1,447.78 612.7,454.8C572.2,461.82 532.8,468.65 500.1,473.7C467.3,478.75 441,482.14 412.1,484.43C383.1,486.72 346.2,488.15 313.2,489.02C280.1,489.89 267.8,489.96 267.8,489.96Z"/>
<path d="M267.8,489.96C267.8,489.96 280.1,489.93 313.2,489.66C346.2,489.4 383.1,488.95 412.1,488.23C441,487.52 467.3,486.47 500.1,484.89C532.8,483.32 572.2,481.19 612.7,479C653.1,476.82 692.5,474.69 725.2,473.11C758,471.54 784.3,470.49 813.2,469.77C842.2,469.06 879.1,468.61 912.1,468.34C945.2,468.07 957.5,468.05 957.5,468.05L957.5,471.34C957.5,471.34 945.2,471.36 912.1,471.63C879.1,471.9 842.2,472.35 813.2,473.06C784.3,473.77 758,474.83 725.2,476.4C692.5,477.98 653.1,480.1 612.7,482.29C572.2,484.48 532.8,486.61 500.1,488.18C467.3,489.75 441,490.81 412.1,491.52C383.1,492.24 346.2,492.68 313.2,492.95C280.1,493.22 267.8,493.24 267.8,493.24Z"/>
<path d="M267.8,493.24C267.8,493.24 280.1,493.25 313.2,493.27C346.2,493.3 383.1,493.35 412.1,493.42C441,493.49 467.3,493.59 500.1,493.75C532.8,493.9 572.2,494.11 612.7,494.33C653.1,494.55 692.5,494.76 725.2,494.92C758,495.07 784.3,495.18 813.2,495.25C842.2,495.32 879.1,495.36 912.1,495.39C945.2,495.42 957.5,495.42 957.5,495.42L957.5,498.44C957.5,498.44 945.2,498.43 912.1,498.41C879.1,498.38 842.2,498.34 813.2,498.27C784.3,498.2 758,498.09 725.2,497.93C692.5,497.78 653.1,497.57 612.7,497.35C572.2,497.13 532.8,496.92 500.1,496.77C467.3,496.61 441,496.5 412.1,496.43C383.1,496.36 346.2,496.32 313.2,496.29C280.1,496.26 267.8,496.26 267.8,496.26Z"/>
<path d="M267.8,496.26C267.8,496.26 280.1,496.35 313.2,497.49C346.2,498.62 383.1,500.49 412.1,503.48C441,506.47 467.3,510.9 500.1,517.49C532.8,524.08 572.2,533.01 612.7,542.18C653.1,551.35 692.5,560.28 725.2,566.87C758,573.47 784.3,577.89 813.2,580.88C842.2,583.87 879.1,585.75 912.1,586.88C945.2,588.01 957.5,588.1 957.5,588.1L957.5,591.96C957.5,591.96 945.2,591.87 912.1,590.74C879.1,589.61 842.2,587.73 813.2,584.74C784.3,581.75 758,577.33 725.2,570.74C692.5,564.14 653.1,555.22 612.7,546.05C572.2,536.88 532.8,527.95 500.1,521.36C467.3,514.76 441,510.34 412.1,507.35C383.1,504.36 346.2,502.48 313.2,501.35C280.1,500.22 267.8,500.13 267.8,500.13Z"/>
<path d="M267.8,500.13C267.8,500.13 280.1,500.26 313.2,501.94C346.2,503.61 383.1,506.38 412.1,510.81C441,515.23 467.3,521.77 500.1,531.52C532.8,541.27 572.2,554.47 612.7,568.04C653.1,581.6 692.5,594.8 725.2,604.55C758,614.3 784.3,620.85 813.2,625.27C842.2,629.69 879.1,632.47 912.1,634.14C945.2,635.81 957.5,635.95 957.5,635.95L957.5,641.4C957.5,641.4 945.2,641.26 912.1,639.59C879.1,637.91 842.2,635.14 813.2,630.72C784.3,626.29 758,619.75 725.2,610C692.5,600.25 653.1,587.05 612.7,573.49C572.2,559.92 532.8,546.72 500.1,536.97C467.3,527.22 441,520.68 412.1,516.26C383.1,511.83 346.2,509.06 313.2,507.39C280.1,505.71 267.8,505.58 267.8,505.58Z"/>
<path d="M267.8,505.58C267.8,505.58 280.1,505.75 313.2,507.94C346.2,510.12 383.1,513.74 412.1,519.51C441,525.29 467.3,533.82 500.1,546.55C532.8,559.27 572.2,576.5 612.7,594.21C653.1,611.91 692.5,629.14 725.2,641.86C758,654.59 784.3,663.12 813.2,668.9C842.2,674.67 879.1,678.29 912.1,680.47C945.2,682.66 957.5,682.83 957.5,682.83L957.5,689.64C957.5,689.64 945.2,689.47 912.1,687.28C879.1,685.1 842.2,681.48 813.2,675.71C784.3,669.94 758,661.4 725.2,648.67C692.5,635.95 653.1,618.72 612.7,601.02C572.2,583.32 532.8,566.09 500.1,553.36C467.3,540.63 441,532.1 412.1,526.33C383.1,520.55 346.2,516.93 313.2,514.75C280.1,512.57 267.8,512.39 267.8,512.39Z"/>
<path d="M267.8,512.39C267.8,512.39 280.1,512.61 313.2,515.29C346.2,517.98 383.1,522.43 412.1,529.53C441,536.62 467.3,547.12 500.1,562.77C532.8,578.42 572.2,599.6 612.7,621.37C653.1,643.13 692.5,664.32 725.2,679.97C758,695.62 784.3,706.11 813.2,713.21C842.2,720.31 879.1,724.76 912.1,727.45C945.2,730.13 957.5,730.35 957.5,730.35L957.5,736.89C957.5,736.89 945.2,736.68 912.1,733.99C879.1,731.31 842.2,726.85 813.2,719.76C784.3,712.66 758,702.16 725.2,686.51C692.5,670.87 653.1,649.68 612.7,627.91C572.2,606.15 532.8,584.96 500.1,569.31C467.3,553.66 441,543.17 412.1,536.07C383.1,528.97 346.2,524.52 313.2,521.84C280.1,519.15 267.8,518.93 267.8,518.93Z"/>
<path d="M267.8,518.93C267.8,518.93 280.1,519.19 313.2,522.29C346.2,525.4 383.1,530.56 412.1,538.77C441,546.99 467.3,559.14 500.1,577.26C532.8,595.37 572.2,619.9 612.7,645.1C653.1,670.3 692.5,694.82 725.2,712.94C758,731.05 784.3,743.21 813.2,751.42C842.2,759.64 879.1,764.79 912.1,767.9C945.2,771.01 957.5,771.26 957.5,771.26L957.5,778.52C957.5,778.52 945.2,778.27 912.1,775.16C879.1,772.05 842.2,766.89 813.2,758.68C784.3,750.46 758,738.31 725.2,720.19C692.5,702.08 653.1,677.55 612.7,652.35C572.2,627.16 532.8,602.63 500.1,584.51C467.3,566.4 441,554.25 412.1,546.03C383.1,537.81 346.2,532.66 313.2,529.55C280.1,526.44 267.8,526.19 267.8,526.19Z"/>
<path d="M267.8,526.19C267.8,526.19 280.1,526.49 313.2,530.18C346.2,533.87 383.1,539.99 412.1,549.74C441,559.49 467.3,573.91 500.1,595.41C532.8,616.91 572.2,646.02 612.7,675.93C653.1,705.84 692.5,734.95 725.2,756.45C758,777.95 784.3,792.37 813.2,802.13C842.2,811.88 879.1,818 912.1,821.69C945.2,825.38 957.5,825.67 957.5,825.67L957.5,830.12C957.5,830.12 945.2,829.83 912.1,826.14C879.1,822.45 842.2,816.33 813.2,806.58C784.3,796.83 758,782.4 725.2,760.9C692.5,739.4 653.1,710.29 612.7,680.38C572.2,650.47 532.8,621.36 500.1,599.86C467.3,578.36 441,563.94 412.1,554.19C383.1,544.44 346.2,538.32 313.2,534.63C280.1,530.94 267.8,530.64 267.8,530.64Z"/>
<path d="M267.8,530.64C267.8,530.64 280.1,530.97 313.2,535.1C346.2,539.23 383.1,546.09 412.1,557C441,567.92 467.3,584.07 500.1,608.14C532.8,632.22 572.2,664.81 612.7,698.29C653.1,731.78 692.5,764.37 725.2,788.44C758,812.52 784.3,828.66 813.2,839.58C842.2,850.5 879.1,857.35 912.1,861.48C945.2,865.61 957.5,865.95 957.5,865.95L957.5,872.52C957.5,872.52 945.2,872.19 912.1,868.06C879.1,863.93 842.2,857.08 813.2,846.16C784.3,835.24 758,819.09 725.2,795.02C692.5,770.95 653.1,738.35 612.7,704.87C572.2,671.38 532.8,638.79 500.1,614.72C467.3,590.65 441,574.5 412.1,563.58C383.1,552.66 346.2,545.81 313.2,541.68C280.1,537.55 267.8,537.22 267.8,537.22Z"/>
<path d="M267.8,537.22C267.8,537.22 280.1,537.59 313.2,542.26C346.2,546.93 383.1,554.68 412.1,567.02C441,579.36 467.3,597.62 500.1,624.83C532.8,652.05 572.2,688.89 612.7,726.75C653.1,764.6 692.5,801.45 725.2,828.66C758,855.88 784.3,874.13 813.2,886.48C842.2,898.82 879.1,906.56 912.1,911.23C945.2,915.9 957.5,916.28 957.5,916.28L957.5,919.35C957.5,919.35 945.2,918.98 912.1,914.31C879.1,909.64 842.2,901.89 813.2,889.55C784.3,877.21 758,858.95 725.2,831.74C692.5,804.52 653.1,767.68 612.7,729.82C572.2,691.97 532.8,655.12 500.1,627.91C467.3,600.7 441,582.44 412.1,570.1C383.1,557.75 346.2,550.01 313.2,545.34C280.1,540.67 267.8,540.29 267.8,540.29Z"/>
<path d="M267.8,540.29C267.8,540.29 280.1,540.76 313.2,546.54C346.2,552.31 383.1,561.89 412.1,577.16C441,592.43 467.3,615.02 500.1,648.68C532.8,682.35 572.2,727.93 612.7,774.76C653.1,821.59 692.5,867.17 725.2,900.84C758,934.5 784.3,957.09 813.2,972.36C842.2,987.62 879.1,997.21 912.1,1002.98C945.2,1008.76 957.5,1009.22 957.5,1009.22L957.5,1014.33C957.5,1014.33 945.2,1013.87 912.1,1008.09C879.1,1002.31 842.2,992.73 813.2,977.46C784.3,962.19 758,939.61 725.2,905.94C692.5,872.28 653.1,826.7 612.7,779.87C572.2,733.04 532.8,687.46 500.1,653.79C467.3,620.12 441,597.54 412.1,582.27C383.1,567 346.2,557.42 313.2,551.64C280.1,545.87 267.8,545.4 267.8,545.4Z"/>
<path d="M267.8,545.4C267.8,545.4 280.1,546.06 313.2,554.17C346.2,562.28 383.1,575.73 412.1,597.18C441,618.62 467.3,650.33 500.1,697.61C532.8,744.89 572.2,808.89 612.7,874.65C653.1,940.41 692.5,1004.42 725.2,1051.7C758,1098.98 784.3,1130.69 813.2,1152.13C842.2,1173.57 879.1,1187.03 912.1,1195.14C945.2,1203.25 957.5,1203.91 957.5,1203.91L957.5,1208.52C957.5,1208.52 945.2,1207.87 912.1,1199.75C879.1,1191.64 842.2,1178.19 813.2,1156.75C784.3,1135.3 758,1103.59 725.2,1056.31C692.5,1009.04 653.1,945.03 612.7,879.27C572.2,813.51 532.8,749.5 500.1,702.22C467.3,654.95 441,623.23 412.1,601.79C383.1,580.35 346.2,566.89 313.2,558.78C280.1,550.67 267.8,550.02 267.8,550.02Z"/>
<path d="M267.8,550.02C267.8,550.02 280.1,550.71 313.2,559.32C346.2,567.93 383.1,582.2 412.1,604.96C441,627.71 467.3,661.36 500.1,711.53C532.8,761.69 572.2,829.61 612.7,899.39C653.1,969.17 692.5,1037.09 725.2,1087.26C758,1137.43 784.3,1171.08 813.2,1193.83C842.2,1216.58 879.1,1230.86 912.1,1239.47C945.2,1248.07 957.5,1248.77 957.5,1248.77L957.5,1256.71C957.5,1256.71 945.2,1256.02 912.1,1247.41C879.1,1238.81 842.2,1224.53 813.2,1201.78C784.3,1179.02 758,1145.37 725.2,1095.21C692.5,1045.04 653.1,977.12 612.7,907.34C572.2,837.56 532.8,769.64 500.1,719.47C467.3,669.31 441,635.66 412.1,612.9C383.1,590.15 346.2,575.87 313.2,567.27C280.1,558.66 267.8,557.96 267.8,557.96Z"/>
<path d="M267.8,557.96C267.8,557.96 280.1,558.85 313.2,569.82C346.2,580.79 383.1,598.99 412.1,627.99C441,656.99 467.3,699.88 500.1,763.82C532.8,827.76 572.2,914.33 612.7,1003.26C653.1,1092.2 692.5,1178.77 725.2,1242.71C758,1306.65 784.3,1349.54 813.2,1378.54C842.2,1407.54 879.1,1425.74 912.1,1436.71C945.2,1447.68 957.5,1448.56 957.5,1448.56L957.5,1453.67C957.5,1453.67 945.2,1452.78 912.1,1441.81C879.1,1430.84 842.2,1412.65 813.2,1383.65C784.3,1354.65 758,1311.76 725.2,1247.82C692.5,1183.88 653.1,1097.31 612.7,1008.37C572.2,919.43 532.8,832.86 500.1,768.92C467.3,704.98 441,662.09 412.1,633.09C383.1,604.09 346.2,585.9 313.2,574.92C280.1,563.95 267.8,563.07 267.8,563.07Z"/>
<path d="M267.8,563.07C267.8,563.07 280.1,563.99 313.2,575.4C346.2,586.81 383.1,605.74 412.1,635.91C441,666.07 467.3,710.69 500.1,777.2C532.8,843.71 572.2,933.76 612.7,1026.27C653.1,1118.78 692.5,1208.83 725.2,1275.34C758,1341.85 784.3,1386.47 813.2,1416.63C842.2,1446.8 879.1,1465.73 912.1,1477.14C945.2,1488.55 957.5,1489.47 957.5,1489.47L957.5,1493C957.5,1493 945.2,1492.08 912.1,1480.67C879.1,1469.26 842.2,1450.33 813.2,1420.17C784.3,1390 758,1345.39 725.2,1278.88C692.5,1212.36 653.1,1122.32 612.7,1029.8C572.2,937.29 532.8,847.24 500.1,780.73C467.3,714.22 441,669.6 412.1,639.44C383.1,609.27 346.2,590.34 313.2,578.93C280.1,567.52 267.8,566.6 267.8,566.6Z"/>
</g>
<g class="f" fill="#142B94" stroke="#142B94">
<path d="M267.8,566.6C267.8,566.6 280.1,566.06 313.2,559.4C346.2,552.73 383.1,541.68 412.1,524.06C441,506.45 467.3,480.39 500.1,441.55C532.8,402.71 572.2,350.12 612.7,296.09C653.1,242.07 692.5,189.48 725.2,150.64C758,111.79 784.3,85.74 813.2,68.12C842.2,50.51 879.1,39.45 912.1,32.79C945.2,26.12 957.5,25.59 957.5,25.59L957.5,43.63C957.5,43.63 945.2,44.16 912.1,50.83C879.1,57.49 842.2,68.55 813.2,86.16C784.3,103.78 758,129.84 725.2,168.68C692.5,207.52 653.1,260.11 612.7,314.13C572.2,368.16 532.8,420.75 500.1,459.59C467.3,498.43 441,524.49 412.1,542.1C383.1,559.72 346.2,570.78 313.2,577.44C280.1,584.1 267.8,584.64 267.8,584.64Z"/>
<path d="M267.8,584.64C267.8,584.64 280.1,584.13 313.2,577.79C346.2,571.44 383.1,560.92 412.1,544.16C441,527.39 467.3,502.59 500.1,465.63C532.8,428.66 572.2,378.61 612.7,327.19C653.1,275.77 692.5,225.72 725.2,188.75C758,151.78 784.3,126.98 813.2,110.22C842.2,93.45 879.1,82.93 912.1,76.59C945.2,70.24 957.5,69.73 957.5,69.73L957.5,92.49C957.5,92.49 945.2,93 912.1,99.34C879.1,105.69 842.2,116.21 813.2,132.97C784.3,149.74 758,174.54 725.2,211.51C692.5,248.47 653.1,298.52 612.7,349.94C572.2,401.37 532.8,451.42 500.1,488.38C467.3,525.35 441,550.15 412.1,566.91C383.1,583.68 346.2,594.2 313.2,600.54C280.1,606.89 267.8,607.4 267.8,607.4Z"/>
<path d="M267.8,607.4C267.8,607.4 280.1,606.92 313.2,600.95C346.2,594.97 383.1,585.07 412.1,569.28C441,553.5 467.3,530.15 500.1,495.34C532.8,460.54 572.2,413.41 612.7,365C653.1,316.58 692.5,269.46 725.2,234.65C758,199.85 784.3,176.5 813.2,160.71C842.2,144.93 879.1,135.02 912.1,129.05C945.2,123.08 957.5,122.59 957.5,122.59L957.5,140.91C957.5,140.91 945.2,141.39 912.1,147.37C879.1,153.34 842.2,163.24 813.2,179.03C784.3,194.82 758,218.16 725.2,252.97C692.5,287.78 653.1,334.9 612.7,383.31C572.2,431.73 532.8,478.85 500.1,513.66C467.3,548.47 441,571.81 412.1,587.6C383.1,603.39 346.2,613.29 313.2,619.26C280.1,625.24 267.8,625.72 267.8,625.72Z"/>
<path d="M267.8,625.72C267.8,625.72 280.1,625.27 313.2,619.68C346.2,614.09 383.1,604.81 412.1,590.04C441,575.26 467.3,553.4 500.1,520.82C532.8,488.24 572.2,444.12 612.7,398.8C653.1,353.48 692.5,309.37 725.2,276.79C758,244.2 784.3,222.35 813.2,207.57C842.2,192.79 879.1,183.52 912.1,177.93C945.2,172.34 957.5,171.89 957.5,171.89L957.5,190.96C957.5,190.96 945.2,191.41 912.1,197C879.1,202.59 842.2,211.86 813.2,226.64C784.3,241.42 758,263.28 725.2,295.86C692.5,328.44 653.1,372.55 612.7,417.87C572.2,463.2 532.8,507.31 500.1,539.89C467.3,572.47 441,594.33 412.1,609.11C383.1,623.89 346.2,633.16 313.2,638.75C280.1,644.34 267.8,644.79 267.8,644.79Z"/>
<path d="M267.8,644.79C267.8,644.79 280.1,644.37 313.2,639.15C346.2,633.93 383.1,625.28 412.1,611.48C441,597.69 467.3,577.29 500.1,546.87C532.8,516.46 572.2,475.28 612.7,432.98C653.1,390.68 692.5,349.5 725.2,319.08C758,288.67 784.3,268.27 813.2,254.48C842.2,240.68 879.1,232.03 912.1,226.81C945.2,221.59 957.5,221.17 957.5,221.17L957.5,237.67C957.5,237.67 945.2,238.1 912.1,243.31C879.1,248.53 842.2,257.19 813.2,270.98C784.3,284.78 758,305.18 725.2,335.59C692.5,366 653.1,407.18 612.7,449.48C572.2,491.79 532.8,532.97 500.1,563.38C467.3,593.79 441,614.19 412.1,627.99C383.1,641.78 346.2,650.44 313.2,655.66C280.1,660.87 267.8,661.3 267.8,661.3Z"/>
<path d="M267.8,661.3C267.8,661.3 280.1,660.9 313.2,655.95C346.2,651.01 383.1,642.81 412.1,629.75C441,616.69 467.3,597.37 500.1,568.56C532.8,539.76 572.2,500.76 612.7,460.69C653.1,420.63 692.5,381.63 725.2,352.82C758,324.02 784.3,304.7 813.2,291.63C842.2,278.57 879.1,270.37 912.1,265.43C945.2,260.49 957.5,260.09 957.5,260.09L957.5,280.67C957.5,280.67 945.2,281.07 912.1,286.01C879.1,290.95 842.2,299.15 813.2,312.22C784.3,325.28 758,344.6 725.2,373.41C692.5,402.21 653.1,441.21 612.7,481.27C572.2,521.34 532.8,560.34 500.1,589.14C467.3,617.95 441,637.27 412.1,650.33C383.1,663.4 346.2,671.59 313.2,676.54C280.1,681.48 267.8,681.88 267.8,681.88Z"/>
<path d="M267.8,681.88C267.8,681.88 280.1,681.56 313.2,677.61C346.2,673.65 383.1,667.1 412.1,656.65C441,646.2 467.3,630.75 500.1,607.71C532.8,584.68 572.2,553.49 612.7,521.45C653.1,489.41 692.5,458.22 725.2,435.18C758,412.15 784.3,396.69 813.2,386.25C842.2,375.8 879.1,369.24 912.1,365.29C945.2,361.34 957.5,361.02 957.5,361.02L957.5,382.55C957.5,382.55 945.2,382.87 912.1,386.82C879.1,390.78 842.2,397.33 813.2,407.78C784.3,418.23 758,433.68 725.2,456.72C692.5,479.75 653.1,510.94 612.7,542.98C572.2,575.02 532.8,606.21 500.1,629.25C467.3,652.28 441,667.74 412.1,678.18C383.1,688.63 346.2,695.19 313.2,699.14C280.1,703.09 267.8,703.41 267.8,703.41Z"/>
<path d="M267.8,703.41C267.8,703.41 280.1,703.13 313.2,699.63C346.2,696.14 383.1,690.34 412.1,681.1C441,671.86 467.3,658.19 500.1,637.82C532.8,617.45 572.2,589.86 612.7,561.52C653.1,533.19 692.5,505.6 725.2,485.23C758,464.86 784.3,451.19 813.2,441.95C842.2,432.71 879.1,426.91 912.1,423.42C945.2,419.92 957.5,419.64 957.5,419.64L957.5,430.23C957.5,430.23 945.2,430.52 912.1,434.01C879.1,437.51 842.2,443.31 813.2,452.55C784.3,461.79 758,475.45 725.2,495.83C692.5,516.2 653.1,543.78 612.7,572.12C572.2,600.46 532.8,628.04 500.1,648.42C467.3,668.79 441,682.46 412.1,691.7C383.1,700.94 346.2,706.73 313.2,710.23C280.1,713.72 267.8,714.01 267.8,714.01Z"/>
<path d="M267.8,714.01C267.8,714.01 280.1,713.77 313.2,710.78C346.2,707.79 383.1,702.83 412.1,694.93C441,687.03 467.3,675.34 500.1,657.92C532.8,640.49 572.2,616.91 612.7,592.67C653.1,568.44 692.5,544.85 725.2,527.43C758,510.01 784.3,498.32 813.2,490.42C842.2,482.52 879.1,477.56 912.1,474.57C945.2,471.58 957.5,471.34 957.5,471.34L957.5,477.92C957.5,477.92 945.2,478.16 912.1,481.15C879.1,484.14 842.2,489.09 813.2,497C784.3,504.9 758,516.58 725.2,534.01C692.5,551.43 653.1,575.02 612.7,599.25C572.2,623.48 532.8,647.07 500.1,664.49C467.3,681.92 441,693.6 412.1,701.5C383.1,709.41 346.2,714.36 313.2,717.35C280.1,720.34 267.8,720.58 267.8,720.58Z"/>
<path d="M267.8,720.58C267.8,720.58 280.1,720.36 313.2,717.63C346.2,714.89 383.1,710.35 412.1,703.12C441,695.88 467.3,685.19 500.1,669.24C532.8,653.29 572.2,631.69 612.7,609.51C653.1,587.33 692.5,565.73 725.2,549.78C758,533.84 784.3,523.14 813.2,515.9C842.2,508.67 879.1,504.13 912.1,501.39C945.2,498.66 957.5,498.44 957.5,498.44L957.5,524.99C957.5,524.99 945.2,525.21 912.1,527.95C879.1,530.69 842.2,535.23 813.2,542.46C784.3,549.69 758,560.39 725.2,576.34C692.5,592.29 653.1,613.88 612.7,636.07C572.2,658.25 532.8,679.84 500.1,695.79C467.3,711.74 441,722.44 412.1,729.67C383.1,736.91 346.2,741.45 313.2,744.18C280.1,746.92 267.8,747.14 267.8,747.14Z"/>
<path d="M267.8,747.14C267.8,747.14 280.1,746.92 313.2,744.19C346.2,741.46 383.1,736.94 412.1,729.72C441,722.51 467.3,711.84 500.1,695.93C532.8,680.03 572.2,658.49 612.7,636.37C653.1,614.24 692.5,592.71 725.2,576.8C758,560.9 784.3,550.23 813.2,543.02C842.2,535.8 879.1,531.28 912.1,528.55C945.2,525.82 957.5,525.6 957.5,525.6L957.5,573.28C957.5,573.28 945.2,573.5 912.1,576.23C879.1,578.96 842.2,583.48 813.2,590.7C784.3,597.91 758,608.58 725.2,624.49C692.5,640.39 653.1,661.93 612.7,684.05C572.2,706.17 532.8,727.71 500.1,743.61C467.3,759.52 441,770.19 412.1,777.4C383.1,784.62 346.2,789.14 313.2,791.87C280.1,794.6 267.8,794.82 267.8,794.82Z"/>
<path d="M267.8,794.82C267.8,794.82 280.1,794.62 313.2,792.12C346.2,789.62 383.1,785.48 412.1,778.87C441,772.27 467.3,762.5 500.1,747.93C532.8,733.37 572.2,713.65 612.7,693.39C653.1,673.14 692.5,653.42 725.2,638.85C758,624.29 784.3,614.52 813.2,607.91C842.2,601.31 879.1,597.16 912.1,594.67C945.2,592.17 957.5,591.97 957.5,591.96L957.5,619.03C957.5,619.03 945.2,619.23 912.1,621.73C879.1,624.23 842.2,628.37 813.2,634.98C784.3,641.58 758,651.35 725.2,665.92C692.5,680.48 653.1,700.2 612.7,720.46C572.2,740.71 532.8,760.43 500.1,775C467.3,789.56 441,799.33 412.1,805.94C383.1,812.54 346.2,816.69 313.2,819.18C280.1,821.68 267.8,821.88 267.8,821.88Z"/>
<path d="M267.8,821.88C267.8,821.88 280.1,821.71 313.2,819.48C346.2,817.26 383.1,813.57 412.1,807.69C441,801.82 467.3,793.12 500.1,780.17C532.8,767.21 572.2,749.66 612.7,731.64C653.1,713.62 692.5,696.07 725.2,683.11C758,670.16 784.3,661.46 813.2,655.59C842.2,649.71 879.1,646.02 912.1,643.8C945.2,641.58 957.5,641.4 957.5,641.4L957.5,667.96C957.5,667.96 945.2,668.14 912.1,670.36C879.1,672.59 842.2,676.27 813.2,682.15C784.3,688.03 758,696.72 725.2,709.68C692.5,722.64 653.1,740.18 612.7,758.21C572.2,776.23 532.8,793.77 500.1,806.73C467.3,819.69 441,828.38 412.1,834.26C383.1,840.14 346.2,843.82 313.2,846.05C280.1,848.27 267.8,848.45 267.8,848.45Z"/>
<path d="M267.8,848.45C267.8,848.45 280.1,848.29 313.2,846.34C346.2,844.38 383.1,841.14 412.1,835.96C441,830.79 467.3,823.15 500.1,811.74C532.8,800.34 572.2,784.91 612.7,769.05C653.1,753.19 692.5,737.75 725.2,726.35C758,714.95 784.3,707.3 813.2,702.13C842.2,696.96 879.1,693.71 912.1,691.76C945.2,689.8 957.5,689.64 957.5,689.64L957.5,715.76C957.5,715.76 945.2,715.91 912.1,717.87C879.1,719.83 842.2,723.07 813.2,728.24C784.3,733.41 758,741.06 725.2,752.46C692.5,763.86 653.1,779.3 612.7,795.16C572.2,811.02 532.8,826.45 500.1,837.86C467.3,849.26 441,856.9 412.1,862.08C383.1,867.25 346.2,870.49 313.2,872.45C280.1,874.4 267.8,874.56 267.8,874.56Z"/>
<path d="M267.8,874.56C267.8,874.56 280.1,874.42 313.2,872.73C346.2,871.03 383.1,868.22 412.1,863.74C441,859.25 467.3,852.62 500.1,842.74C532.8,832.86 572.2,819.47 612.7,805.73C653.1,791.98 692.5,778.6 725.2,768.71C758,758.83 784.3,752.2 813.2,747.72C842.2,743.23 879.1,740.42 912.1,738.72C945.2,737.03 957.5,736.89 957.5,736.89L957.5,763.07C957.5,763.07 945.2,763.21 912.1,764.9C879.1,766.6 842.2,769.41 813.2,773.89C784.3,778.38 758,785.01 725.2,794.89C692.5,804.78 653.1,818.16 612.7,831.9C572.2,845.65 532.8,859.03 500.1,868.92C467.3,878.8 441,885.43 412.1,889.92C383.1,894.4 346.2,897.21 313.2,898.91C280.1,900.6 267.8,900.74 267.8,900.74Z"/>
<path d="M267.8,900.74C267.8,900.74 280.1,900.62 313.2,899.11C346.2,897.61 383.1,895.11 412.1,891.13C441,887.15 467.3,881.26 500.1,872.49C532.8,863.71 572.2,851.83 612.7,839.63C653.1,827.42 692.5,815.54 725.2,806.77C758,797.99 784.3,792.11 813.2,788.13C842.2,784.15 879.1,781.65 912.1,780.14C945.2,778.64 957.5,778.52 957.5,778.52L957.5,811.69C957.5,811.69 945.2,811.81 912.1,813.31C879.1,814.82 842.2,817.32 813.2,821.3C784.3,825.28 758,831.16 725.2,839.94C692.5,848.71 653.1,860.59 612.7,872.8C572.2,885 532.8,896.88 500.1,905.66C467.3,914.43 441,920.32 412.1,924.3C383.1,928.28 346.2,930.78 313.2,932.28C280.1,933.79 267.8,933.91 267.8,933.91Z"/>
<path d="M267.8,933.91C267.8,933.91 280.1,933.81 313.2,932.53C346.2,931.25 383.1,929.13 412.1,925.75C441,922.37 467.3,917.37 500.1,909.92C532.8,902.47 572.2,892.38 612.7,882.02C653.1,871.65 692.5,861.56 725.2,854.11C758,846.66 784.3,841.66 813.2,838.28C842.2,834.9 879.1,832.78 912.1,831.51C945.2,830.23 957.5,830.12 957.5,830.12L957.5,858.1C957.5,858.1 945.2,858.2 912.1,859.48C879.1,860.76 842.2,862.88 813.2,866.26C784.3,869.64 758,874.63 725.2,882.09C692.5,889.54 653.1,899.63 612.7,909.99C572.2,920.35 532.8,930.44 500.1,937.89C467.3,945.34 441,950.34 412.1,953.72C383.1,957.1 346.2,959.22 313.2,960.5C280.1,961.78 267.8,961.88 267.8,961.88Z"/>
<path d="M267.8,961.88C267.8,961.88 280.1,961.79 313.2,960.69C346.2,959.59 383.1,957.77 412.1,954.86C441,951.95 467.3,947.64 500.1,941.23C532.8,934.81 572.2,926.13 612.7,917.2C653.1,908.28 692.5,899.59 725.2,893.18C758,886.76 784.3,882.46 813.2,879.55C842.2,876.64 879.1,874.81 912.1,873.71C945.2,872.61 957.5,872.52 957.5,872.52L957.5,902.12C957.5,902.12 945.2,902.21 912.1,903.31C879.1,904.41 842.2,906.23 813.2,909.14C784.3,912.05 758,916.36 725.2,922.77C692.5,929.19 653.1,937.87 612.7,946.8C572.2,955.72 532.8,964.41 500.1,970.82C467.3,977.24 441,981.54 412.1,984.45C383.1,987.36 346.2,989.19 313.2,990.29C280.1,991.39 267.8,991.48 267.8,991.48Z"/>
<path d="M267.8,991.48C267.8,991.48 280.1,991.41 313.2,990.52C346.2,989.63 383.1,988.16 412.1,985.81C441,983.46 467.3,979.99 500.1,974.81C532.8,969.63 572.2,962.62 612.7,955.42C653.1,948.21 692.5,941.2 725.2,936.03C758,930.85 784.3,927.37 813.2,925.03C842.2,922.68 879.1,921.2 912.1,920.32C945.2,919.43 957.5,919.35 957.5,919.35L957.5,954.73C957.5,954.73 945.2,954.8 912.1,955.69C879.1,956.58 842.2,958.05 813.2,960.4C784.3,962.75 758,966.22 725.2,971.4C692.5,976.58 653.1,983.59 612.7,990.79C572.2,998 532.8,1005.01 500.1,1010.18C467.3,1015.36 441,1018.84 412.1,1021.18C383.1,1023.53 346.2,1025.01 313.2,1025.89C280.1,1026.78 267.8,1026.85 267.8,1026.85Z"/>
<path d="M267.8,1026.85C267.8,1026.85 280.1,1026.78 313.2,1025.89C346.2,1025.01 383.1,1023.53 412.1,1021.18C441,1018.84 467.3,1015.36 500.1,1010.18C532.8,1005.01 572.2,998 612.7,990.79C653.1,983.59 692.5,976.58 725.2,971.4C758,966.22 784.3,962.75 813.2,960.4C842.2,958.05 879.1,956.58 912.1,955.69C945.2,954.8 957.5,954.73 957.5,954.73L957.5,1002.41C957.5,1002.41 945.2,1002.48 912.1,1003.37C879.1,1004.26 842.2,1005.74 813.2,1008.08C784.3,1010.43 758,1013.91 725.2,1019.08C692.5,1024.26 653.1,1031.27 612.7,1038.47C572.2,1045.68 532.8,1052.69 500.1,1057.87C467.3,1063.04 441,1066.52 412.1,1068.87C383.1,1071.21 346.2,1072.69 313.2,1073.58C280.1,1074.46 267.8,1074.54 267.8,1074.54Z"/>
<path d="M267.8,1074.54C267.8,1074.54 280.1,1074.48 313.2,1073.73C346.2,1072.99 383.1,1071.76 412.1,1069.8C441,1067.84 467.3,1064.94 500.1,1060.62C532.8,1056.3 572.2,1050.45 612.7,1044.43C653.1,1038.42 692.5,1032.57 725.2,1028.25C758,1023.93 784.3,1021.03 813.2,1019.07C842.2,1017.11 879.1,1015.88 912.1,1015.14C945.2,1014.39 957.5,1014.33 957.5,1014.33L957.5,1050.09C957.5,1050.09 945.2,1050.15 912.1,1050.9C879.1,1051.64 842.2,1052.87 813.2,1054.83C784.3,1056.79 758,1059.69 725.2,1064.01C692.5,1068.33 653.1,1074.18 612.7,1080.2C572.2,1086.21 532.8,1092.06 500.1,1096.38C467.3,1100.7 441,1103.6 412.1,1105.56C383.1,1107.52 346.2,1108.75 313.2,1109.5C280.1,1110.24 267.8,1110.3 267.8,1110.3Z"/>
<path d="M267.8,1110.3C267.8,1110.3 280.1,1110.25 313.2,1109.62C346.2,1109 383.1,1107.96 412.1,1106.31C441,1104.66 467.3,1102.22 500.1,1098.59C532.8,1094.95 572.2,1090.02 612.7,1084.96C653.1,1079.9 692.5,1074.98 725.2,1071.34C758,1067.7 784.3,1065.26 813.2,1063.61C842.2,1061.96 879.1,1060.93 912.1,1060.31C945.2,1059.68 957.5,1059.63 957.5,1059.63L957.5,1097.78C957.5,1097.78 945.2,1097.83 912.1,1098.45C879.1,1099.07 842.2,1100.11 813.2,1101.76C784.3,1103.41 758,1105.85 725.2,1109.49C692.5,1113.12 653.1,1118.05 612.7,1123.11C572.2,1128.17 532.8,1133.09 500.1,1136.73C467.3,1140.37 441,1142.81 412.1,1144.46C383.1,1146.11 346.2,1147.14 313.2,1147.77C280.1,1148.39 267.8,1148.44 267.8,1148.44Z"/>
<path d="M267.8,1148.44C267.8,1148.44 280.1,1148.39 313.2,1147.77C346.2,1147.14 383.1,1146.11 412.1,1144.46C441,1142.81 467.3,1140.37 500.1,1136.73C532.8,1133.09 572.2,1128.17 612.7,1123.11C653.1,1118.05 692.5,1113.12 725.2,1109.49C758,1105.85 784.3,1103.41 813.2,1101.76C842.2,1100.11 879.1,1099.07 912.1,1098.45C945.2,1097.83 957.5,1097.78 957.5,1097.78L957.5,1145.46C957.5,1145.46 945.2,1145.51 912.1,1146.13C879.1,1146.76 842.2,1147.79 813.2,1149.44C784.3,1151.09 758,1153.53 725.2,1157.17C692.5,1160.81 653.1,1165.73 612.7,1170.79C572.2,1175.85 532.8,1180.78 500.1,1184.41C467.3,1188.05 441,1190.49 412.1,1192.14C383.1,1193.79 346.2,1194.83 313.2,1195.45C280.1,1196.07 267.8,1196.12 267.8,1196.12Z"/>
<path d="M267.8,1196.12C267.8,1196.12 280.1,1196.08 313.2,1195.58C346.2,1195.08 383.1,1194.25 412.1,1192.93C441,1191.61 467.3,1189.65 500.1,1186.73C532.8,1183.82 572.2,1179.87 612.7,1175.81C653.1,1171.75 692.5,1167.8 725.2,1164.89C758,1161.97 784.3,1160.01 813.2,1158.69C842.2,1157.37 879.1,1156.54 912.1,1156.04C945.2,1155.54 957.5,1155.5 957.5,1155.5L957.5,1193.14C957.5,1193.14 945.2,1193.18 912.1,1193.68C879.1,1194.18 842.2,1195.01 813.2,1196.33C784.3,1197.66 758,1199.61 725.2,1202.53C692.5,1205.45 653.1,1209.4 612.7,1213.45C572.2,1217.51 532.8,1221.46 500.1,1224.38C467.3,1227.29 441,1229.25 412.1,1230.57C383.1,1231.9 346.2,1232.73 313.2,1233.23C280.1,1233.73 267.8,1233.77 267.8,1233.77Z"/>
<path d="M267.8,1233.77C267.8,1233.77 280.1,1233.74 313.2,1233.43C346.2,1233.12 383.1,1232.6 412.1,1231.78C441,1230.96 467.3,1229.74 500.1,1227.93C532.8,1226.12 572.2,1223.67 612.7,1221.14C653.1,1218.62 692.5,1216.17 725.2,1214.36C758,1212.54 784.3,1211.33 813.2,1210.51C842.2,1209.68 879.1,1209.17 912.1,1208.86C945.2,1208.55 957.5,1208.52 957.5,1208.52L957.5,1239.28C957.5,1239.28 945.2,1239.31 912.1,1239.62C879.1,1239.93 842.2,1240.45 813.2,1241.27C784.3,1242.09 758,1243.31 725.2,1245.12C692.5,1246.93 653.1,1249.39 612.7,1251.91C572.2,1254.43 532.8,1256.88 500.1,1258.69C467.3,1260.51 441,1261.72 412.1,1262.54C383.1,1263.37 346.2,1263.88 313.2,1264.19C280.1,1264.5 267.8,1264.53 267.8,1264.53Z"/>
<path d="M267.8,1264.53C267.8,1264.53 280.1,1264.52 313.2,1264.43C346.2,1264.33 383.1,1264.17 412.1,1263.92C441,1263.66 467.3,1263.28 500.1,1262.72C532.8,1262.16 572.2,1261.4 612.7,1260.62C653.1,1259.84 692.5,1259.08 725.2,1258.52C758,1257.96 784.3,1257.58 813.2,1257.33C842.2,1257.07 879.1,1256.92 912.1,1256.82C945.2,1256.72 957.5,1256.71 957.5,1256.71L957.5,1288.5C957.5,1288.5 945.2,1288.51 912.1,1288.61C879.1,1288.7 842.2,1288.86 813.2,1289.12C784.3,1289.37 758,1289.75 725.2,1290.31C692.5,1290.87 653.1,1291.63 612.7,1292.41C572.2,1293.19 532.8,1293.95 500.1,1294.51C467.3,1295.07 441,1295.45 412.1,1295.7C383.1,1295.96 346.2,1296.12 313.2,1296.21C280.1,1296.31 267.8,1296.32 267.8,1296.32Z"/>
<path d="M267.8,1296.32C267.8,1296.32 280.1,1296.31 313.2,1296.21C346.2,1296.12 383.1,1295.96 412.1,1295.7C441,1295.45 467.3,1295.07 500.1,1294.51C532.8,1293.95 572.2,1293.19 612.7,1292.41C653.1,1291.63 692.5,1290.87 725.2,1290.31C758,1289.75 784.3,1289.37 813.2,1289.12C842.2,1288.86 879.1,1288.7 912.1,1288.61C945.2,1288.51 957.5,1288.5 957.5,1288.5L957.5,1326.65C957.5,1326.65 945.2,1326.66 912.1,1326.75C879.1,1326.85 842.2,1327.01 813.2,1327.26C784.3,1327.52 758,1327.89 725.2,1328.45C692.5,1329.02 653.1,1329.77 612.7,1330.56C572.2,1331.34 532.8,1332.1 500.1,1332.66C467.3,1333.22 441,1333.59 412.1,1333.85C383.1,1334.1 346.2,1334.26 313.2,1334.36C280.1,1334.46 267.8,1334.46 267.8,1334.46Z"/>
<path d="M267.8,1334.46C267.8,1334.46 280.1,1334.46 313.2,1334.49C346.2,1334.51 383.1,1334.54 412.1,1334.6C441,1334.65 467.3,1334.74 500.1,1334.86C532.8,1334.98 572.2,1335.15 612.7,1335.32C653.1,1335.5 692.5,1335.66 725.2,1335.79C758,1335.91 784.3,1335.99 813.2,1336.05C842.2,1336.1 879.1,1336.14 912.1,1336.16C945.2,1336.18 957.5,1336.18 957.5,1336.18L957.5,1371.95C957.5,1371.95 945.2,1371.94 912.1,1371.92C879.1,1371.9 842.2,1371.87 813.2,1371.81C784.3,1371.75 758,1371.67 725.2,1371.55C692.5,1371.42 653.1,1371.26 612.7,1371.08C572.2,1370.91 532.8,1370.75 500.1,1370.62C467.3,1370.5 441,1370.42 412.1,1370.36C383.1,1370.3 346.2,1370.27 313.2,1370.25C280.1,1370.23 267.8,1370.22 267.8,1370.22Z"/>
<path d="M267.8,1370.22C267.8,1370.22 280.1,1370.24 313.2,1370.41C346.2,1370.57 383.1,1370.85 412.1,1371.3C441,1371.74 467.3,1372.4 500.1,1373.38C532.8,1374.36 572.2,1375.68 612.7,1377.04C653.1,1378.41 692.5,1379.73 725.2,1380.71C758,1381.69 784.3,1382.35 813.2,1382.79C842.2,1383.24 879.1,1383.52 912.1,1383.68C945.2,1383.85 957.5,1383.87 957.5,1383.87L957.5,1431.55C957.5,1431.55 945.2,1431.53 912.1,1431.37C879.1,1431.2 842.2,1430.92 813.2,1430.47C784.3,1430.03 758,1429.37 725.2,1428.39C692.5,1427.41 653.1,1426.09 612.7,1424.73C572.2,1423.36 532.8,1422.04 500.1,1421.06C467.3,1420.08 441,1419.42 412.1,1418.98C383.1,1418.53 346.2,1418.26 313.2,1418.09C280.1,1417.92 267.8,1417.91 267.8,1417.91Z"/>
<path d="M267.8,1417.91C267.8,1417.91 280.1,1417.94 313.2,1418.38C346.2,1418.82 383.1,1419.55 412.1,1420.72C441,1421.88 467.3,1423.6 500.1,1426.17C532.8,1428.74 572.2,1432.22 612.7,1435.79C653.1,1439.36 692.5,1442.84 725.2,1445.4C758,1447.97 784.3,1449.69 813.2,1450.86C842.2,1452.02 879.1,1452.75 912.1,1453.19C945.2,1453.63 957.5,1453.67 957.5,1453.67L957.5,1472.13C957.5,1472.13 945.2,1472.1 912.1,1471.66C879.1,1471.22 842.2,1470.49 813.2,1469.32C784.3,1468.16 758,1466.43 725.2,1463.87C692.5,1461.3 653.1,1457.82 612.7,1454.25C572.2,1450.68 532.8,1447.2 500.1,1444.64C467.3,1442.07 441,1440.35 412.1,1439.18C383.1,1438.02 346.2,1437.29 313.2,1436.85C280.1,1436.4 267.8,1436.37 267.8,1436.37Z"/>
<path d="M267.8,1436.37C267.8,1436.37 280.1,1436.43 313.2,1437.12C346.2,1437.82 383.1,1438.98 412.1,1440.82C441,1442.67 467.3,1445.39 500.1,1449.46C532.8,1453.53 572.2,1459.03 612.7,1464.69C653.1,1470.34 692.5,1475.85 725.2,1479.91C758,1483.98 784.3,1486.71 813.2,1488.55C842.2,1490.39 879.1,1491.55 912.1,1492.25C945.2,1492.95 957.5,1493 957.5,1493L957.5,1514.9C957.5,1514.9 945.2,1514.85 912.1,1514.15C879.1,1513.45 842.2,1512.29 813.2,1510.45C784.3,1508.6 758,1505.88 725.2,1501.81C692.5,1497.75 653.1,1492.24 612.7,1486.58C572.2,1480.93 532.8,1475.42 500.1,1471.36C467.3,1467.29 441,1464.56 412.1,1462.72C383.1,1460.88 346.2,1459.72 313.2,1459.02C280.1,1458.32 267.8,1458.27 267.8,1458.27Z"/>
<path d="M267.8,1458.27C267.8,1458.27 280.1,1458.34 313.2,1459.18C346.2,1460.03 383.1,1461.43 412.1,1463.66C441,1465.9 467.3,1469.21 500.1,1474.13C532.8,1479.06 572.2,1485.73 612.7,1492.59C653.1,1499.44 692.5,1506.12 725.2,1511.04C758,1515.97 784.3,1519.28 813.2,1521.51C842.2,1523.75 879.1,1525.15 912.1,1526C945.2,1526.84 957.5,1526.91 957.5,1526.91L957.5,1550.75C957.5,1550.75 945.2,1550.68 912.1,1549.84C879.1,1548.99 842.2,1547.59 813.2,1545.35C784.3,1543.12 758,1539.81 725.2,1534.89C692.5,1529.96 653.1,1523.28 612.7,1516.43C572.2,1509.57 532.8,1502.9 500.1,1497.97C467.3,1493.05 441,1489.74 412.1,1487.51C383.1,1485.27 346.2,1483.87 313.2,1483.02C280.1,1482.18 267.8,1482.11 267.8,1482.11Z"/>
<path d="M267.8,1482.11C267.8,1482.11 280.1,1482.2 313.2,1483.34C346.2,1484.48 383.1,1486.37 412.1,1489.38C441,1492.39 467.3,1496.85 500.1,1503.48C532.8,1510.12 572.2,1519.11 612.7,1528.35C653.1,1537.59 692.5,1546.58 725.2,1553.22C758,1559.86 784.3,1564.31 813.2,1567.32C842.2,1570.33 879.1,1572.22 912.1,1573.36C945.2,1574.5 957.5,1574.59 957.5,1574.59L957.5,1598.43C957.5,1598.43 945.2,1598.34 912.1,1597.2C879.1,1596.06 842.2,1594.17 813.2,1591.16C784.3,1588.15 758,1583.7 725.2,1577.06C692.5,1570.42 653.1,1561.43 612.7,1552.19C572.2,1542.96 532.8,1533.97 500.1,1527.33C467.3,1520.69 441,1516.23 412.1,1513.22C383.1,1510.21 346.2,1508.32 313.2,1507.18C280.1,1506.04 267.8,1505.95 267.8,1505.95Z"/>
<path d="M267.8,1505.95C267.8,1505.95 280.1,1506.06 313.2,1507.5C346.2,1508.93 383.1,1511.31 412.1,1515.09C441,1518.88 467.3,1524.48 500.1,1532.84C532.8,1541.19 572.2,1552.49 612.7,1564.11C653.1,1575.73 692.5,1587.03 725.2,1595.39C758,1603.74 784.3,1609.34 813.2,1613.13C842.2,1616.92 879.1,1619.29 912.1,1620.73C945.2,1622.16 957.5,1622.27 957.5,1622.27L957.5,1650.88C957.5,1650.88 945.2,1650.77 912.1,1649.33C879.1,1647.9 842.2,1645.52 813.2,1641.74C784.3,1637.95 758,1632.35 725.2,1624C692.5,1615.64 653.1,1604.34 612.7,1592.72C572.2,1581.1 532.8,1569.8 500.1,1561.45C467.3,1553.09 441,1547.49 412.1,1543.7C383.1,1539.92 346.2,1537.54 313.2,1536.11C280.1,1534.67 267.8,1534.56 267.8,1534.56Z"/>
<path d="M267.8,1534.56C267.8,1534.56 280.1,1534.69 313.2,1536.36C346.2,1538.03 383.1,1540.79 412.1,1545.2C441,1549.61 467.3,1556.13 500.1,1565.85C532.8,1575.57 572.2,1588.74 612.7,1602.26C653.1,1615.78 692.5,1628.94 725.2,1638.66C758,1648.38 784.3,1654.9 813.2,1659.31C842.2,1663.72 879.1,1666.48 912.1,1668.15C945.2,1669.82 957.5,1669.96 957.5,1669.96L957.5,1690.16C957.5,1690.16 945.2,1690.02 912.1,1688.36C879.1,1686.69 842.2,1683.92 813.2,1679.51C784.3,1675.1 758,1668.58 725.2,1658.86C692.5,1649.14 653.1,1635.98 612.7,1622.46C572.2,1608.94 532.8,1595.78 500.1,1586.06C467.3,1576.34 441,1569.82 412.1,1565.41C383.1,1561 346.2,1558.23 313.2,1556.56C280.1,1554.9 267.8,1554.76 267.8,1554.76Z"/>
<path d="M267.8,1554.76C267.8,1554.76 280.1,1554.98 313.2,1557.64C346.2,1560.31 383.1,1564.74 412.1,1571.79C441,1578.84 467.3,1589.26 500.1,1604.81C532.8,1620.35 572.2,1641.4 612.7,1663.02C653.1,1684.64 692.5,1705.69 725.2,1721.23C758,1736.78 784.3,1747.2 813.2,1754.26C842.2,1761.31 879.1,1765.73 912.1,1768.4C945.2,1771.06 957.5,1771.28 957.5,1771.28L957.5,1801.08C957.5,1801.08 945.2,1800.86 912.1,1798.2C879.1,1795.53 842.2,1791.11 813.2,1784.06C784.3,1777.01 758,1766.58 725.2,1751.03C692.5,1735.49 653.1,1714.44 612.7,1692.82C572.2,1671.2 532.8,1650.15 500.1,1634.61C467.3,1619.06 441,1608.64 412.1,1601.59C383.1,1594.54 346.2,1590.11 313.2,1587.45C280.1,1584.78 267.8,1584.56 267.8,1584.56Z"/>
</g>
<g class="f" fill="#616161" stroke="#616161">
<path d="M267.8,1584.56C267.8,1584.56 280.1,1583.08 313.2,1564.7C346.2,1546.32 383.1,1515.83 412.1,1467.25C441,1418.66 467.3,1346.81 500.1,1239.69C532.8,1132.56 572.2,987.53 612.7,838.53C653.1,689.52 692.5,544.49 725.2,437.37C758,330.24 784.3,258.39 813.2,209.8C842.2,161.22 879.1,130.73 912.1,112.35C945.2,93.97 957.5,92.49 957.5,92.49L957.5,92.85C957.5,92.85 945.2,94.33 912.1,112.71C879.1,131.09 842.2,161.58 813.2,210.16C784.3,258.75 758,330.61 725.2,437.73C692.5,544.85 653.1,689.88 612.7,838.89C572.2,987.89 532.8,1132.92 500.1,1240.05C467.3,1347.17 441,1419.03 412.1,1467.61C383.1,1516.2 346.2,1546.68 313.2,1565.06C280.1,1583.44 267.8,1584.92 267.8,1584.92Z" class="n"/>
<path d="M267.8,1584.92C267.8,1584.92 280.1,1583.49 313.2,1565.7C346.2,1547.91 383.1,1518.41 412.1,1471.39C441,1424.37 467.3,1354.83 500.1,1251.16C532.8,1147.48 572.2,1007.12 612.7,862.92C653.1,718.71 692.5,578.35 725.2,474.68C758,371.01 784.3,301.47 813.2,254.45C842.2,207.43 879.1,177.92 912.1,160.14C945.2,142.35 957.5,140.91 957.5,140.91L957.5,142.26C957.5,142.26 945.2,143.7 912.1,161.48C879.1,179.27 842.2,208.77 813.2,255.79C784.3,302.81 758,372.36 725.2,476.03C692.5,579.7 653.1,720.06 612.7,864.27C572.2,1008.47 532.8,1148.83 500.1,1252.5C467.3,1356.17 441,1425.72 412.1,1472.74C383.1,1519.76 346.2,1549.26 313.2,1567.05C280.1,1584.83 267.8,1586.27 267.8,1586.27Z" class="n"/>
<path d="M267.8,1586.27C267.8,1586.27 280.1,1584.88 313.2,1567.7C346.2,1550.51 383.1,1522 412.1,1476.56C441,1431.13 467.3,1363.93 500.1,1263.76C532.8,1163.58 572.2,1027.96 612.7,888.62C653.1,749.27 692.5,613.65 725.2,513.47C758,413.3 784.3,346.1 813.2,300.67C842.2,255.23 879.1,226.72 912.1,209.53C945.2,192.35 957.5,190.96 957.5,190.96L957.5,191.25C957.5,191.25 945.2,192.64 912.1,209.82C879.1,227.01 842.2,255.52 813.2,300.95C784.3,346.39 758,413.58 725.2,513.76C692.5,613.94 653.1,749.56 612.7,888.9C572.2,1028.25 532.8,1163.87 500.1,1264.05C467.3,1364.22 441,1431.42 412.1,1476.85C383.1,1522.29 346.2,1550.8 313.2,1567.98C280.1,1585.17 267.8,1586.56 267.8,1586.56Z" class="n"/>
<path d="M267.8,1586.56C267.8,1586.56 280.1,1585.5 313.2,1572.43C346.2,1559.35 383.1,1537.66 412.1,1503.09C441,1468.53 467.3,1417.4 500.1,1341.19C532.8,1264.98 572.2,1161.79 612.7,1055.78C653.1,949.77 692.5,846.58 725.2,770.36C758,694.15 784.3,643.03 813.2,608.46C842.2,573.89 879.1,552.2 912.1,539.13C945.2,526.05 957.5,524.99 957.5,524.99L957.5,525.3C957.5,525.3 945.2,526.35 912.1,539.43C879.1,552.5 842.2,574.19 813.2,608.76C784.3,643.33 758,694.45 725.2,770.67C692.5,846.88 653.1,950.07 612.7,1056.08C572.2,1162.09 532.8,1265.28 500.1,1341.49C467.3,1417.71 441,1468.83 412.1,1503.4C383.1,1537.96 346.2,1559.65 313.2,1572.73C280.1,1585.81 267.8,1586.86 267.8,1586.86Z" class="n"/>
<path d="M267.8,1586.86C267.8,1586.86 280.1,1586 313.2,1575.27C346.2,1564.53 383.1,1546.74 412.1,1518.37C441,1490.01 467.3,1448.06 500.1,1385.51C532.8,1322.97 572.2,1238.3 612.7,1151.31C653.1,1064.32 692.5,979.64 725.2,917.1C758,854.56 784.3,812.61 813.2,784.25C842.2,755.88 879.1,738.08 912.1,727.35C945.2,716.62 957.5,715.76 957.5,715.76L957.5,716.04C957.5,716.04 945.2,716.91 912.1,727.64C879.1,738.37 842.2,756.17 813.2,784.53C784.3,812.9 758,854.85 725.2,917.39C692.5,979.93 653.1,1064.6 612.7,1151.59C572.2,1238.58 532.8,1323.26 500.1,1385.8C467.3,1448.34 441,1490.29 412.1,1518.66C383.1,1547.02 346.2,1564.82 313.2,1575.55C280.1,1586.28 267.8,1587.15 267.8,1587.15Z" class="n"/>
<path d="M267.8,1587.15C267.8,1587.15 280.1,1587.03 313.2,1585.61C346.2,1584.2 383.1,1581.85 412.1,1578.1C441,1574.36 467.3,1568.82 500.1,1560.56C532.8,1552.3 572.2,1541.12 612.7,1529.64C653.1,1518.15 692.5,1506.97 725.2,1498.72C758,1490.46 784.3,1484.92 813.2,1481.18C842.2,1477.43 879.1,1475.08 912.1,1473.66C945.2,1472.25 957.5,1472.13 957.5,1472.13L957.5,1474.12C957.5,1474.12 945.2,1474.24 912.1,1475.65C879.1,1477.07 842.2,1479.42 813.2,1483.17C784.3,1486.91 758,1492.45 725.2,1500.71C692.5,1508.97 653.1,1520.14 612.7,1531.63C572.2,1543.12 532.8,1554.3 500.1,1562.55C467.3,1570.81 441,1576.35 412.1,1580.09C383.1,1583.84 346.2,1586.19 313.2,1587.61C280.1,1589.02 267.8,1589.14 267.8,1589.14Z" class="n"/>
<path d="M267.8,1589.14C267.8,1589.14 280.1,1589.06 313.2,1588.15C346.2,1587.23 383.1,1585.72 412.1,1583.3C441,1580.88 467.3,1577.31 500.1,1571.98C532.8,1566.65 572.2,1559.43 612.7,1552.02C653.1,1544.61 692.5,1537.39 725.2,1532.06C758,1526.73 784.3,1523.16 813.2,1520.74C842.2,1518.32 879.1,1516.8 912.1,1515.89C945.2,1514.98 957.5,1514.9 957.5,1514.9L957.5,1518.79C957.5,1518.79 945.2,1518.86 912.1,1519.78C879.1,1520.69 842.2,1522.21 813.2,1524.62C784.3,1527.04 758,1530.62 725.2,1535.95C692.5,1541.28 653.1,1548.49 612.7,1555.9C572.2,1563.32 532.8,1570.53 500.1,1575.86C467.3,1581.19 441,1584.77 412.1,1587.19C383.1,1589.6 346.2,1591.12 313.2,1592.03C280.1,1592.95 267.8,1593.02 267.8,1593.02Z"/>
<path d="M267.8,1593.02C267.8,1593.02 280.1,1593.12 313.2,1594.31C346.2,1595.51 383.1,1597.5 412.1,1600.66C441,1603.82 467.3,1608.5 500.1,1615.47C532.8,1622.45 572.2,1631.89 612.7,1641.59C653.1,1651.29 692.5,1660.73 725.2,1667.71C758,1674.68 784.3,1679.36 813.2,1682.52C842.2,1685.68 879.1,1687.67 912.1,1688.87C945.2,1690.06 957.5,1690.16 957.5,1690.16L957.5,1697.43C957.5,1697.43 945.2,1697.34 912.1,1696.14C879.1,1694.94 842.2,1692.96 813.2,1689.8C784.3,1686.63 758,1681.95 725.2,1674.98C692.5,1668.01 653.1,1658.56 612.7,1648.86C572.2,1639.16 532.8,1629.72 500.1,1622.75C467.3,1615.77 441,1611.1 412.1,1607.93C383.1,1604.77 346.2,1602.78 313.2,1601.59C280.1,1600.39 267.8,1600.3 267.8,1600.3Z"/>
</g>
<g class="f" fill="#A93B0A" stroke="#A93B0A">
<path d="M267.8,122.29C267.8,122.29 280.1,122.18 313.2,120.77C346.2,119.37 383.1,117.04 412.1,113.32C441,109.61 467.3,104.11 500.1,95.92C532.8,87.73 572.2,76.64 612.7,65.24C653.1,53.85 692.5,42.75 725.2,34.56C758,26.37 784.3,20.87 813.2,17.16C842.2,13.44 879.1,11.11 912.1,9.71C945.2,8.3 957.5,8.19 957.5,8.19L957.5,17.85C957.5,17.85 945.2,17.97 912.1,19.37C879.1,20.78 842.2,23.11 813.2,26.82C784.3,30.54 758,36.04 725.2,44.23C692.5,52.42 653.1,63.51 612.7,74.91C572.2,86.3 532.8,97.39 500.1,105.58C467.3,113.78 441,119.27 412.1,122.99C383.1,126.7 346.2,129.03 313.2,130.44C280.1,131.85 267.8,131.96 267.8,131.96Z"/>
<path d="M267.8,131.96C267.8,131.96 280.1,131.88 313.2,130.95C346.2,130.01 383.1,128.46 412.1,125.99C441,123.51 467.3,119.86 500.1,114.4C532.8,108.95 572.2,101.57 612.7,93.98C653.1,86.4 692.5,79.01 725.2,73.56C758,68.11 784.3,64.45 813.2,61.98C842.2,59.5 879.1,57.95 912.1,57.02C945.2,56.08 957.5,56.01 957.5,56.01L957.5,64.31C957.5,64.31 945.2,64.39 912.1,65.33C879.1,66.26 842.2,67.81 813.2,70.29C784.3,72.76 758,76.42 725.2,81.87C692.5,87.32 653.1,94.71 612.7,102.29C572.2,109.88 532.8,117.26 500.1,122.71C467.3,128.16 441,131.82 412.1,134.3C383.1,136.77 346.2,138.32 313.2,139.26C280.1,140.19 267.8,140.27 267.8,140.27Z"/>
<path d="M267.8,140.27C267.8,140.27 280.1,140.23 313.2,139.72C346.2,139.22 383.1,138.39 412.1,137.06C441,135.73 467.3,133.76 500.1,130.83C532.8,127.9 572.2,123.93 612.7,119.85C653.1,115.77 692.5,111.8 725.2,108.87C758,105.93 784.3,103.97 813.2,102.64C842.2,101.31 879.1,100.47 912.1,99.97C945.2,99.47 957.5,99.43 957.5,99.43L957.5,116.67C957.5,116.67 945.2,116.71 912.1,117.21C879.1,117.71 842.2,118.55 813.2,119.88C784.3,121.21 758,123.17 725.2,126.11C692.5,129.04 653.1,133.01 612.7,137.09C572.2,141.17 532.8,145.14 500.1,148.07C467.3,151 441,152.97 412.1,154.3C383.1,155.63 346.2,156.46 313.2,156.96C280.1,157.47 267.8,157.51 267.8,157.51Z"/>
<path d="M267.8,157.51C267.8,157.51 280.1,157.5 313.2,157.41C346.2,157.31 383.1,157.16 412.1,156.91C441,156.66 467.3,156.3 500.1,155.76C532.8,155.21 572.2,154.47 612.7,153.72C653.1,152.96 692.5,152.22 725.2,151.68C758,151.13 784.3,150.77 813.2,150.52C842.2,150.27 879.1,150.12 912.1,150.03C945.2,149.93 957.5,149.92 957.5,149.92L957.5,164.95C957.5,164.95 945.2,164.96 912.1,165.05C879.1,165.15 842.2,165.3 813.2,165.55C784.3,165.79 758,166.16 725.2,166.7C692.5,167.25 653.1,167.99 612.7,168.74C572.2,169.5 532.8,170.24 500.1,170.78C467.3,171.33 441,171.69 412.1,171.94C383.1,172.19 346.2,172.34 313.2,172.43C280.1,172.53 267.8,172.53 267.8,172.53Z"/>
<path d="M267.8,172.53C267.8,172.53 280.1,172.56 313.2,172.89C346.2,173.22 383.1,173.76 412.1,174.63C441,175.5 467.3,176.78 500.1,178.69C532.8,180.6 572.2,183.19 612.7,185.85C653.1,188.51 692.5,191.1 725.2,193.01C758,194.92 784.3,196.2 813.2,197.07C842.2,197.94 879.1,198.48 912.1,198.81C945.2,199.14 957.5,199.16 957.5,199.16L957.5,217.5C957.5,217.5 945.2,217.47 912.1,217.15C879.1,216.82 842.2,216.27 813.2,215.41C784.3,214.54 758,213.26 725.2,211.35C692.5,209.43 653.1,206.85 612.7,204.19C572.2,201.53 532.8,198.94 500.1,197.03C467.3,195.12 441,193.83 412.1,192.97C383.1,192.1 346.2,191.56 313.2,191.23C280.1,190.9 267.8,190.87 267.8,190.87Z"/>
<path d="M267.8,190.87C267.8,190.87 280.1,190.92 313.2,191.52C346.2,192.12 383.1,193.11 412.1,194.7C441,196.28 467.3,198.62 500.1,202.12C532.8,205.61 572.2,210.33 612.7,215.19C653.1,220.05 692.5,224.77 725.2,228.27C758,231.76 784.3,234.1 813.2,235.68C842.2,237.27 879.1,238.26 912.1,238.86C945.2,239.46 957.5,239.51 957.5,239.51L957.5,260.09C957.5,260.09 945.2,260.04 912.1,259.44C879.1,258.84 842.2,257.85 813.2,256.27C784.3,254.68 758,252.34 725.2,248.85C692.5,245.36 653.1,240.63 612.7,235.77C572.2,230.92 532.8,226.19 500.1,222.7C467.3,219.21 441,216.86 412.1,215.28C383.1,213.7 346.2,212.7 313.2,212.1C280.1,211.5 267.8,211.46 267.8,211.46Z"/>
<path d="M267.8,211.46C267.8,211.46 280.1,211.53 313.2,212.46C346.2,213.4 383.1,214.94 412.1,217.41C441,219.88 467.3,223.52 500.1,228.96C532.8,234.4 572.2,241.76 612.7,249.32C653.1,256.89 692.5,264.25 725.2,269.68C758,275.12 784.3,278.77 813.2,281.23C842.2,283.7 879.1,285.25 912.1,286.18C945.2,287.11 957.5,287.19 957.5,287.19L957.5,334.87C957.5,334.87 945.2,334.8 912.1,333.86C879.1,332.93 842.2,331.38 813.2,328.92C784.3,326.45 758,322.8 725.2,317.37C692.5,311.93 653.1,304.57 612.7,297C572.2,289.44 532.8,282.08 500.1,276.64C467.3,271.21 441,267.56 412.1,265.09C383.1,262.63 346.2,261.08 313.2,260.15C280.1,259.21 267.8,259.14 267.8,259.14Z"/>
<path d="M267.8,259.14C267.8,259.14 280.1,259.21 313.2,260.17C346.2,261.12 383.1,262.7 412.1,265.21C441,267.73 467.3,271.45 500.1,277C532.8,282.55 572.2,290.06 612.7,297.77C653.1,305.49 692.5,313 725.2,318.55C758,324.1 784.3,327.82 813.2,330.33C842.2,332.85 879.1,334.43 912.1,335.38C945.2,336.33 957.5,336.41 957.5,336.41L957.5,350.25C957.5,350.25 945.2,350.18 912.1,349.22C879.1,348.27 842.2,346.69 813.2,344.18C784.3,341.66 758,337.94 725.2,332.39C692.5,326.84 653.1,319.33 612.7,311.62C572.2,303.9 532.8,296.39 500.1,290.84C467.3,285.29 441,281.57 412.1,279.06C383.1,276.54 346.2,274.96 313.2,274.01C280.1,273.06 267.8,272.98 267.8,272.98Z"/>
<path d="M267.8,272.98C267.8,272.98 280.1,273.09 313.2,274.44C346.2,275.79 383.1,278.03 412.1,281.6C441,285.16 467.3,290.44 500.1,298.31C532.8,306.17 572.2,316.82 612.7,327.77C653.1,338.71 692.5,349.36 725.2,357.23C758,365.09 784.3,370.37 813.2,373.94C842.2,377.51 879.1,379.74 912.1,381.09C945.2,382.44 957.5,382.55 957.5,382.55L957.5,409.04C957.5,409.04 945.2,408.93 912.1,407.58C879.1,406.23 842.2,404 813.2,400.43C784.3,396.86 758,391.58 725.2,383.72C692.5,375.85 653.1,365.2 612.7,354.26C572.2,343.31 532.8,332.66 500.1,324.8C467.3,316.93 441,311.65 412.1,308.09C383.1,304.52 346.2,302.28 313.2,300.93C280.1,299.58 267.8,299.47 267.8,299.47Z"/>
<path d="M267.8,299.47C267.8,299.47 280.1,299.61 313.2,301.32C346.2,303.03 383.1,305.87 412.1,310.4C441,314.92 467.3,321.62 500.1,331.6C532.8,341.57 572.2,355.08 612.7,368.96C653.1,382.84 692.5,396.35 725.2,406.33C758,416.31 784.3,423 813.2,427.53C842.2,432.05 879.1,434.89 912.1,436.6C945.2,438.32 957.5,438.46 957.5,438.46L957.5,468.05C957.5,468.05 945.2,467.91 912.1,466.2C879.1,464.49 842.2,461.65 813.2,457.12C784.3,452.6 758,445.9 725.2,435.93C692.5,425.95 653.1,412.44 612.7,398.56C572.2,384.68 532.8,371.17 500.1,361.19C467.3,351.21 441,344.52 412.1,339.99C383.1,335.47 346.2,332.63 313.2,330.92C280.1,329.2 267.8,329.07 267.8,329.07Z"/>
<path d="M267.8,329.07C267.8,329.07 280.1,329.22 313.2,331.13C346.2,333.04 383.1,336.2 412.1,341.24C441,346.29 467.3,353.75 500.1,364.87C532.8,375.99 572.2,391.04 612.7,406.51C653.1,421.98 692.5,437.03 725.2,448.15C758,459.27 784.3,466.73 813.2,471.77C842.2,476.82 879.1,479.98 912.1,481.89C945.2,483.8 957.5,483.95 957.5,483.95L957.5,495.42C957.5,495.42 945.2,495.27 912.1,493.36C879.1,491.45 842.2,488.28 813.2,483.24C784.3,478.2 758,470.74 725.2,459.62C692.5,448.5 653.1,433.44 612.7,417.98C572.2,402.51 532.8,387.45 500.1,376.33C467.3,365.21 441,357.75 412.1,352.71C383.1,347.67 346.2,344.5 313.2,342.6C280.1,340.69 267.8,340.53 267.8,340.53Z"/>
<path d="M267.8,340.53C267.8,340.53 280.1,340.77 313.2,343.69C346.2,346.61 383.1,351.46 412.1,359.19C441,366.91 467.3,378.34 500.1,395.37C532.8,412.41 572.2,435.47 612.7,459.16C653.1,482.85 692.5,505.92 725.2,522.95C758,539.98 784.3,551.41 813.2,559.14C842.2,566.86 879.1,571.71 912.1,574.63C945.2,577.55 957.5,577.79 957.5,577.79L957.5,588.1C957.5,588.1 945.2,587.86 912.1,584.94C879.1,582.02 842.2,577.17 813.2,569.44C784.3,561.72 758,550.29 725.2,533.26C692.5,516.23 653.1,493.16 612.7,469.47C572.2,445.78 532.8,422.72 500.1,405.68C467.3,388.65 441,377.22 412.1,369.5C383.1,361.77 346.2,356.92 313.2,354C280.1,351.08 267.8,350.84 267.8,350.84Z"/>
<path d="M267.8,350.84C267.8,350.84 280.1,351.12 313.2,354.52C346.2,357.92 383.1,363.57 412.1,372.56C441,381.56 467.3,394.86 500.1,414.69C532.8,434.53 572.2,461.38 612.7,488.97C653.1,516.55 692.5,543.41 725.2,563.24C758,583.07 784.3,596.38 813.2,605.37C842.2,614.37 879.1,620.01 912.1,623.41C945.2,626.82 957.5,627.09 957.5,627.09L957.5,635.95C957.5,635.95 945.2,635.67 912.1,632.27C879.1,628.87 842.2,623.22 813.2,614.23C784.3,605.23 758,591.93 725.2,572.09C692.5,552.26 653.1,525.41 612.7,497.82C572.2,470.24 532.8,443.38 500.1,423.55C467.3,403.72 441,390.41 412.1,381.42C383.1,372.42 346.2,366.78 313.2,363.38C280.1,359.97 267.8,359.7 267.8,359.7Z"/>
<path d="M267.8,359.7C267.8,359.7 280.1,360.01 313.2,363.86C346.2,367.72 383.1,374.11 412.1,384.3C441,394.49 467.3,409.56 500.1,432.03C532.8,454.49 572.2,484.91 612.7,516.16C653.1,547.41 692.5,577.82 725.2,600.29C758,622.75 784.3,637.82 813.2,648.01C842.2,658.2 879.1,664.6 912.1,668.45C945.2,672.3 957.5,672.62 957.5,672.62L957.5,682.83C957.5,682.83 945.2,682.52 912.1,678.67C879.1,674.81 842.2,668.42 813.2,658.23C784.3,648.04 758,632.97 725.2,610.51C692.5,588.04 653.1,557.62 612.7,526.37C572.2,495.13 532.8,464.71 500.1,442.24C467.3,419.78 441,404.71 412.1,394.52C383.1,384.33 346.2,377.94 313.2,374.08C280.1,370.23 267.8,369.92 267.8,369.92Z"/>
<path d="M267.8,369.92C267.8,369.92 280.1,370.27 313.2,374.6C346.2,378.94 383.1,386.13 412.1,397.59C441,409.06 467.3,426.01 500.1,451.28C532.8,476.55 572.2,510.77 612.7,545.92C653.1,581.08 692.5,615.3 725.2,640.57C758,665.84 784.3,682.79 813.2,694.26C842.2,705.72 879.1,712.91 912.1,717.25C945.2,721.58 957.5,721.93 957.5,721.93L957.5,730.35C957.5,730.35 945.2,730 912.1,725.66C879.1,721.33 842.2,714.13 813.2,702.67C784.3,691.21 758,674.26 725.2,648.98C692.5,623.71 653.1,589.49 612.7,554.34C572.2,519.19 532.8,484.97 500.1,459.7C467.3,434.42 441,417.47 412.1,406.01C383.1,394.54 346.2,387.35 313.2,383.02C280.1,378.68 267.8,378.33 267.8,378.33Z"/>
<path d="M267.8,378.33C267.8,378.33 280.1,378.72 313.2,383.52C346.2,388.32 383.1,396.29 412.1,408.98C441,421.67 467.3,440.45 500.1,468.43C532.8,496.42 572.2,534.31 612.7,573.24C653.1,612.17 692.5,650.06 725.2,678.05C758,706.04 784.3,724.81 813.2,737.5C842.2,750.2 879.1,758.16 912.1,762.96C945.2,767.76 957.5,768.15 957.5,768.15L957.5,771.26C957.5,771.26 945.2,770.87 912.1,766.07C879.1,761.27 842.2,753.3 813.2,740.61C784.3,727.92 758,709.14 725.2,681.16C692.5,653.17 653.1,615.28 612.7,576.35C572.2,537.42 532.8,499.53 500.1,471.54C467.3,443.56 441,424.78 412.1,412.09C383.1,399.4 346.2,391.43 313.2,386.63C280.1,381.83 267.8,381.44 267.8,381.44Z"/>
<path d="M267.8,381.44C267.8,381.44 280.1,381.87 313.2,387.25C346.2,392.63 383.1,401.55 412.1,415.77C441,429.98 467.3,451.01 500.1,482.36C532.8,513.7 572.2,556.14 612.7,599.74C653.1,643.34 692.5,685.78 725.2,717.13C758,748.47 784.3,769.5 813.2,783.72C842.2,797.93 879.1,806.85 912.1,812.23C945.2,817.61 957.5,818.04 957.5,818.04L957.5,825.67C957.5,825.67 945.2,825.24 912.1,819.86C879.1,814.48 842.2,805.56 813.2,791.35C784.3,777.13 758,756.1 725.2,724.76C692.5,693.41 653.1,650.97 612.7,607.37C572.2,563.77 532.8,521.33 500.1,489.99C467.3,458.64 441,437.61 412.1,423.4C383.1,409.18 346.2,400.26 313.2,394.88C280.1,389.5 267.8,389.07 267.8,389.07Z"/>
<path d="M267.8,389.07C267.8,389.07 280.1,389.54 313.2,395.37C346.2,401.21 383.1,410.88 412.1,426.3C441,441.73 467.3,464.53 500.1,498.53C532.8,532.53 572.2,578.57 612.7,625.86C653.1,673.16 692.5,719.19 725.2,753.19C758,787.19 784.3,810 813.2,825.42C842.2,840.84 879.1,850.52 912.1,856.35C945.2,862.19 957.5,862.66 957.5,862.66L957.5,865.95C957.5,865.95 945.2,865.47 912.1,859.64C879.1,853.81 842.2,844.13 813.2,828.71C784.3,813.29 758,790.48 725.2,756.48C692.5,722.48 653.1,676.45 612.7,629.15C572.2,581.86 532.8,535.82 500.1,501.82C467.3,467.82 441,445.01 412.1,429.59C383.1,414.17 346.2,404.5 313.2,398.66C280.1,392.83 267.8,392.36 267.8,392.36Z"/>
<path d="M267.8,392.36C267.8,392.36 280.1,392.88 313.2,399.29C346.2,405.71 383.1,416.35 412.1,433.31C441,450.27 467.3,475.35 500.1,512.75C532.8,550.14 572.2,600.77 612.7,652.78C653.1,704.79 692.5,755.42 725.2,792.81C758,830.21 784.3,855.29 813.2,872.25C842.2,889.21 879.1,899.85 912.1,906.27C945.2,912.68 957.5,913.2 957.5,913.2L957.5,916.28C957.5,916.28 945.2,915.76 912.1,909.34C879.1,902.93 842.2,892.29 813.2,875.33C784.3,858.37 758,833.28 725.2,795.89C692.5,758.5 653.1,707.87 612.7,655.86C572.2,603.84 532.8,553.22 500.1,515.82C467.3,478.43 441,453.34 412.1,436.38C383.1,419.42 346.2,408.78 313.2,402.37C280.1,395.95 267.8,395.43 267.8,395.43Z"/>
<path d="M267.8,395.43C267.8,395.43 280.1,396.04 313.2,403.58C346.2,411.12 383.1,423.63 412.1,443.56C441,463.49 467.3,492.97 500.1,536.91C532.8,580.86 572.2,640.35 612.7,701.48C653.1,762.6 692.5,822.1 725.2,866.04C758,909.99 784.3,939.47 813.2,959.4C842.2,979.33 879.1,991.83 912.1,999.37C945.2,1006.91 957.5,1007.52 957.5,1007.52L957.5,1009.22C957.5,1009.22 945.2,1008.62 912.1,1001.08C879.1,993.54 842.2,981.03 813.2,961.1C784.3,941.17 758,911.69 725.2,867.75C692.5,823.8 653.1,764.31 612.7,703.18C572.2,642.06 532.8,582.56 500.1,538.61C467.3,494.67 441,465.19 412.1,445.26C383.1,425.33 346.2,412.82 313.2,405.28C280.1,397.75 267.8,397.14 267.8,397.14Z" class="n"/>
<path d="M267.8,397.14C267.8,397.14 280.1,397.79 313.2,405.89C346.2,413.99 383.1,427.43 412.1,448.85C441,470.27 467.3,501.94 500.1,549.16C532.8,596.38 572.2,660.32 612.7,726C653.1,791.68 692.5,855.61 725.2,902.84C758,950.06 784.3,981.73 813.2,1003.15C842.2,1024.57 879.1,1038.01 912.1,1046.11C945.2,1054.21 957.5,1054.86 957.5,1054.86L957.5,1059.63C957.5,1059.63 945.2,1058.98 912.1,1050.88C879.1,1042.77 842.2,1029.33 813.2,1007.92C784.3,986.5 758,954.83 725.2,907.6C692.5,860.38 653.1,796.45 612.7,730.77C572.2,665.08 532.8,601.15 500.1,553.93C467.3,506.71 441,475.04 412.1,453.62C383.1,432.2 346.2,418.76 313.2,410.66C280.1,402.56 267.8,401.9 267.8,401.9Z"/>
<path d="M267.8,401.9C267.8,401.9 280.1,402.65 313.2,411.87C346.2,421.09 383.1,436.39 412.1,460.76C441,485.14 467.3,521.19 500.1,574.93C532.8,628.67 572.2,701.44 612.7,776.19C653.1,850.95 692.5,923.71 725.2,977.45C758,1031.2 784.3,1067.25 813.2,1091.62C842.2,1116 879.1,1131.29 912.1,1140.51C945.2,1149.73 957.5,1150.48 957.5,1150.48L957.5,1155.5C957.5,1155.5 945.2,1154.75 912.1,1145.53C879.1,1136.31 842.2,1121.01 813.2,1096.64C784.3,1072.26 758,1036.21 725.2,982.47C692.5,928.73 653.1,855.96 612.7,781.21C572.2,706.45 532.8,633.69 500.1,579.95C467.3,526.21 441,490.16 412.1,465.78C383.1,441.4 346.2,426.11 313.2,416.89C280.1,407.67 267.8,406.92 267.8,406.92Z"/>
<path d="M267.8,406.92C267.8,406.92 280.1,407.71 313.2,417.45C346.2,427.19 383.1,443.35 412.1,469.1C441,494.85 467.3,532.94 500.1,589.72C532.8,646.49 572.2,723.36 612.7,802.34C653.1,881.31 692.5,958.18 725.2,1014.96C758,1071.74 784.3,1109.82 813.2,1135.57C842.2,1161.33 879.1,1177.48 912.1,1187.23C945.2,1196.97 957.5,1197.75 957.5,1197.75L957.5,1203.91C957.5,1203.91 945.2,1203.12 912.1,1193.38C879.1,1183.64 842.2,1167.48 813.2,1141.73C784.3,1115.98 758,1077.89 725.2,1021.11C692.5,964.34 653.1,887.47 612.7,808.49C572.2,729.52 532.8,652.65 500.1,595.87C467.3,539.09 441,501.01 412.1,475.25C383.1,449.5 346.2,433.35 313.2,423.6C280.1,413.86 267.8,413.08 267.8,413.08Z"/>
<path d="M267.8,413.08C267.8,413.08 280.1,413.9 313.2,424.1C346.2,434.29 383.1,451.2 412.1,478.16C441,505.11 467.3,544.97 500.1,604.4C532.8,663.83 572.2,744.29 612.7,826.95C653.1,909.61 692.5,990.07 725.2,1049.5C758,1108.92 784.3,1148.79 813.2,1175.74C842.2,1202.69 879.1,1219.61 912.1,1229.8C945.2,1240 957.5,1240.82 957.5,1240.82L957.5,1248.77C957.5,1248.77 945.2,1247.94 912.1,1237.75C879.1,1227.55 842.2,1210.64 813.2,1183.69C784.3,1156.73 758,1116.87 725.2,1057.44C692.5,998.02 653.1,917.56 612.7,834.9C572.2,752.23 532.8,671.78 500.1,612.35C467.3,552.92 441,513.06 412.1,486.1C383.1,459.15 346.2,442.24 313.2,432.04C280.1,421.85 267.8,421.02 267.8,421.02Z"/>
<path d="M267.8,421.02C267.8,421.02 280.1,422.03 313.2,434.53C346.2,447.04 383.1,467.77 412.1,500.82C441,533.87 467.3,582.75 500.1,655.62C532.8,728.49 572.2,827.14 612.7,928.5C653.1,1029.85 692.5,1128.51 725.2,1201.38C758,1274.24 784.3,1323.12 813.2,1356.17C842.2,1389.22 879.1,1409.96 912.1,1422.46C945.2,1434.96 957.5,1435.97 957.5,1435.97L957.5,1448.56C957.5,1448.56 945.2,1447.55 912.1,1435.05C879.1,1422.55 842.2,1401.81 813.2,1368.76C784.3,1335.72 758,1286.84 725.2,1213.97C692.5,1141.1 653.1,1042.45 612.7,941.09C572.2,839.73 532.8,741.08 500.1,668.21C467.3,595.34 441,546.46 412.1,513.42C383.1,480.37 346.2,459.63 313.2,447.13C280.1,434.62 267.8,433.62 267.8,433.62Z"/>
<path d="M267.8,433.62C267.8,433.62 280.1,434.66 313.2,447.6C346.2,460.54 383.1,482.01 412.1,516.22C441,550.42 467.3,601.02 500.1,676.44C532.8,751.87 572.2,853.98 612.7,958.89C653.1,1063.81 692.5,1165.92 725.2,1241.35C758,1316.77 784.3,1367.37 813.2,1401.57C842.2,1435.78 879.1,1457.25 912.1,1470.19C945.2,1483.13 957.5,1484.17 957.5,1484.17L957.5,1489.47C957.5,1489.47 945.2,1488.43 912.1,1475.49C879.1,1462.55 842.2,1441.08 813.2,1406.87C784.3,1372.66 758,1322.07 725.2,1246.65C692.5,1171.22 653.1,1069.11 612.7,964.19C572.2,859.28 532.8,757.16 500.1,681.74C467.3,606.31 441,555.72 412.1,521.51C383.1,487.31 346.2,465.84 313.2,452.9C280.1,439.96 267.8,438.91 267.8,438.91Z"/>
</g>
<g stroke="#fff" stroke-width="3.2">
<rect x="-0.5" y="1.1" width="268.3" height="121.2" fill="#2E5F75"/>
<rect x="-0.5" y="122.3" width="268.3" height="316.6" fill="#B04B1E"/>
<rect x="-0.5" y="438.9" width="268.3" height="127.7" fill="#BC42C0"/>
<rect x="-0.5" y="566.6" width="268.3" height="1018" fill="#273C9D"/>
<rect x="-0.5" y="1584.6" width="268.3" height="15.7" fill="#6E6E6E"/>
<rect x="-0.5" y="1600.3" width="268.3" height="212.7" fill="#943168"/>
</g>
<g stroke="#fff" stroke-width="3.2">
<rect x="957.5" y="1.10" width="268.1" height="47.68" fill="#B3B3B3"/>
<rect x="957.5" y="48.78" width="268.1" height="47.68" fill="#B3B3B3"/>
<rect x="957.5" y="96.46" width="268.1" height="47.68" fill="#E5E5E5"/>
<rect x="957.5" y="144.14" width="268.1" height="47.68" fill="#E5E5E5"/>
<rect x="957.5" y="191.83" width="268.1" height="47.68" fill="#E5E5E5"/>
<rect x="957.5" y="239.51" width="268.1" height="47.68" fill="#E5E5E5"/>
<rect x="957.5" y="287.19" width="268.1" height="47.68" fill="#E5E5E5"/>
<rect x="957.5" y="334.87" width="268.1" height="47.68" fill="#E5E5E5"/>
<rect x="957.5" y="382.55" width="268.1" height="47.68" fill="#E5E5E5"/>
<rect x="957.5" y="430.23" width="268.1" height="47.68" fill="#E5E5E5"/>
<rect x="957.5" y="477.92" width="268.1" height="47.68" fill="#B3B3B3"/>
<rect x="957.5" y="525.60" width="268.1" height="47.68" fill="#B3B3B3"/>
<rect x="957.5" y="573.28" width="268.1" height="47.68" fill="#B3B3B3"/>
<rect x="957.5" y="620.96" width="268.1" height="47.68" fill="#B3B3B3"/>
<rect x="957.5" y="668.64" width="268.1" height="47.68" fill="#B3B3B3"/>
<rect x="957.5" y="716.32" width="268.1" height="47.68" fill="#B3B3B3"/>
<rect x="957.5" y="764.01" width="268.1" height="47.68" fill="#B3B3B3"/>
<rect x="957.5" y="811.69" width="268.1" height="47.68" fill="#B3B3B3"/>
<rect x="957.5" y="859.37" width="268.1" height="47.68" fill="#B3B3B3"/>
<rect x="957.5" y="907.05" width="268.1" height="47.68" fill="#B3B3B3"/>
<rect x="957.5" y="954.73" width="268.1" height="47.68" fill="#B3B3B3"/>
<rect x="957.5" y="1002.41" width="268.1" height="47.68" fill="#B3B3B3"/>
<rect x="957.5" y="1050.09" width="268.1" height="47.68" fill="#B3B3B3"/>
<rect x="957.5" y="1097.78" width="268.1" height="47.68" fill="#B3B3B3"/>
<rect x="957.5" y="1145.46" width="268.1" height="47.68" fill="#B3B3B3"/>
<rect x="957.5" y="1193.14" width="268.1" height="47.68" fill="#B3B3B3"/>
<rect x="957.5" y="1240.82" width="268.1" height="47.68" fill="#B3B3B3"/>
<rect x="957.5" y="1288.50" width="268.1" height="47.68" fill="#B3B3B3"/>
<rect x="957.5" y="1336.18" width="268.1" height="47.68" fill="#B3B3B3"/>
<rect x="957.5" y="1383.87" width="268.1" height="47.68" fill="#B3B3B3"/>
<rect x="957.5" y="1431.55" width="268.1" height="47.68" fill="#E5E5E5"/>
<rect x="957.5" y="1479.23" width="268.1" height="47.68" fill="#E5E5E5"/>
<rect x="957.5" y="1526.91" width="268.1" height="47.68" fill="#E5E5E5"/>
<rect x="957.5" y="1574.59" width="268.1" height="47.68" fill="#E5E5E5"/>
<rect x="957.5" y="1622.27" width="268.1" height="47.68" fill="#E5E5E5"/>
<rect x="957.5" y="1669.96" width="268.1" height="47.68" fill="#E5E5E5"/>
<rect x="957.5" y="1717.64" width="268.1" height="47.68" fill="#E5E5E5"/>
<rect x="957.5" y="1765.32" width="268.1" height="47.68" fill="#E5E5E5"/>
</g>
<g style="will-change:opacity">
<g class="b">
<text x="133.7" y="74.1">Anemochory</text>
<text x="133.7" y="293">Unspecialised</text>
<text x="133.7" y="515.2">Epizoochory</text>
<text x="133.7" y="1088">Hydrochory</text>
<text x="133.7" y="1604.8">Other</text>
<text x="133.7" y="1719">Endozoochory</text>
<text x="1091.5" y="37.3">A. fulvigula</text>
<text x="1091.5" y="85">A. rubripes</text>
<text x="1091.5" y="132.7">A. acuta</text>
<text x="1091.5" y="180.4">A. carolinensis</text>
<text x="1091.5" y="228.1">S. cyanoptera</text>
<text x="1091.5" y="275.7">A. albifrons</text>
<text x="1091.5" y="323.4">A. brachyrhynchus</text>
<text x="1091.5" y="371.1">B. canadensis</text>
<text x="1091.5" y="418.8">D. autumnalis</text>
<text x="1091.5" y="466.5">D. bicolor</text>
<text x="1091.5" y="514.2">M. americana</text>
<text x="1091.5" y="561.8">M. penelope</text>
<text x="1091.5" y="609.5">M. strepera</text>
<text x="1091.5" y="657.2">S. clypeata</text>
<text x="1091.5" y="704.9">S. discors</text>
<text x="1091.5" y="752.6">A. affinis</text>
<text x="1091.5" y="800.2">A. americana</text>
<text x="1091.5" y="847.9">A. collaris</text>
<text x="1091.5" y="895.6">A. marila</text>
<text x="1091.5" y="943.3">A. valisineria</text>
<text x="1091.5" y="991">N. dominicus</text>
<text x="1091.5" y="1038.7">O. jamaicensis</text>
<text x="1091.5" y="1086.3">A. caerulescens</text>
<text x="1091.5" y="1134">B. bernicla</text>
<text x="1091.5" y="1181.7">B. albeola</text>
<text x="1091.5" y="1229.4">B. clangula</text>
<text x="1091.5" y="1277.1">B. islandica</text>
<text x="1091.5" y="1324.7">M. perspicillata</text>
<text x="1091.5" y="1372.4">S. fischeri</text>
<text x="1091.5" y="1420.1">C. buccinator</text>
<text x="1091.5" y="1467.8">A. platyrhynchos</text>
<text x="1091.5" y="1515.5">A. sponsa</text>
<text x="1091.5" y="1563.2">A. canagicus</text>
<text x="1091.5" y="1610.8">B. hutchinsii</text>
<text x="1091.5" y="1658.5">C. hyemalis</text>
<text x="1091.5" y="1706.2">P. stelleri</text>
<text x="1091.5" y="1753.9">S. mollissima</text>
<text x="1091.5" y="1801.6">C. columbianus</text>
</g>
<rect x="1248.7" y="5.3" width="44" height="229.2" fill="#56B4E9"/>
<rect x="1248.7" y="244.1" width="44" height="133.7" fill="#009E73"/>
<rect x="1248.7" y="387.3" width="44" height="85.9" fill="#E69F00"/>
<rect x="1248.7" y="482.8" width="44" height="229.2" fill="#56B4E9"/>
<rect x="1248.7" y="721.5" width="44" height="324.7" fill="#0072B2"/>
<rect x="1248.7" y="1055.7" width="44" height="85.9" fill="#009E73"/>
<rect x="1248.7" y="1151.2" width="44" height="229.2" fill="#D55E00"/>
<rect x="1248.7" y="1389.9" width="44" height="38.2" fill="#CC79A7"/>
<rect x="1248.7" y="1437.6" width="44" height="85.9" fill="#56B4E9"/>
<rect x="1248.7" y="1533.1" width="44" height="85.9" fill="#009E73"/>
<rect x="1248.7" y="1628.6" width="44" height="133.7" fill="#D55E00"/>
<rect x="1248.7" y="1771.8" width="44" height="38.2" fill="#CC79A7"/>
<rect x="1307.30" y="3" width="108.78" height="43" fill="#943168"/>
<rect x="1319.06" y="3" width="97.02" height="43" fill="#273C9D"/>
<rect x="1360.22" y="3" width="55.86" height="43" fill="#BC42C0"/>
<rect x="1377.86" y="3" width="38.22" height="43" fill="#B04B1E"/>
<rect x="1399.91" y="3" width="16.17" height="43" fill="#2E5F75"/>
<rect x="1307.30" y="50.7" width="194.04" height="43" fill="#943168"/>
<rect x="1322.00" y="50.7" width="179.34" height="43" fill="#6E6E6E"/>
<rect x="1323.47" y="50.7" width="177.87" height="43" fill="#273C9D"/>
<rect x="1416.08" y="50.7" width="85.26" height="43" fill="#BC42C0"/>
<rect x="1438.13" y="50.7" width="63.21" height="43" fill="#B04B1E"/>
<rect x="1471.94" y="50.7" width="29.40" height="43" fill="#2E5F75"/>
<rect x="1307.30" y="98.4" width="260.19" height="43" fill="#943168"/>
<rect x="1317.59" y="98.4" width="249.90" height="43" fill="#6E6E6E"/>
<rect x="1324.94" y="98.4" width="242.55" height="43" fill="#273C9D"/>
<rect x="1424.90" y="98.4" width="142.59" height="43" fill="#BC42C0"/>
<rect x="1457.24" y="98.4" width="110.25" height="43" fill="#B04B1E"/>
<rect x="1551.32" y="98.4" width="16.17" height="43" fill="#2E5F75"/>
<rect x="1307.30" y="146.2" width="242.55" height="43" fill="#943168"/>
<rect x="1310.24" y="146.2" width="239.61" height="43" fill="#6E6E6E"/>
<rect x="1311.71" y="146.2" width="238.14" height="43" fill="#273C9D"/>
<rect x="1408.73" y="146.2" width="141.12" height="43" fill="#BC42C0"/>
<rect x="1444.01" y="146.2" width="105.84" height="43" fill="#B04B1E"/>
<rect x="1520.45" y="146.2" width="29.40" height="43" fill="#2E5F75"/>
<rect x="1307.30" y="193.9" width="38.22" height="43" fill="#943168"/>
<rect x="1308.77" y="193.9" width="36.75" height="43" fill="#273C9D"/>
<rect x="1322.00" y="193.9" width="23.52" height="43" fill="#BC42C0"/>
<rect x="1324.94" y="193.9" width="20.58" height="43" fill="#B04B1E"/>
<rect x="1339.64" y="193.9" width="5.88" height="43" fill="#2E5F75"/>
<rect x="1307.30" y="241.7" width="10.22" height="43" fill="#943168"/>
<rect x="1308.70" y="241.7" width="8.82" height="43" fill="#273C9D"/>
<rect x="1313.11" y="241.7" width="4.41" height="43" fill="#B04B1E"/>
<rect x="1307.30" y="289.4" width="1.47" height="43" fill="#B04B1E"/>
<rect x="1307.30" y="337.2" width="45.57" height="43" fill="#273C9D"/>
<rect x="1327.88" y="337.2" width="24.99" height="43" fill="#BC42C0"/>
<rect x="1338.17" y="337.2" width="14.70" height="43" fill="#B04B1E"/>
<rect x="1351.40" y="337.2" width="1.47" height="43" fill="#2E5F75"/>
<rect x="1307.30" y="384.9" width="13.23" height="43" fill="#273C9D"/>
<rect x="1310.24" y="384.9" width="10.29" height="43" fill="#BC42C0"/>
<rect x="1313.18" y="384.9" width="7.35" height="43" fill="#B04B1E"/>
<rect x="1307.30" y="432.6" width="42.63" height="43" fill="#273C9D"/>
<rect x="1313.18" y="432.6" width="36.75" height="43" fill="#BC42C0"/>
<rect x="1316.12" y="432.6" width="33.81" height="43" fill="#B04B1E"/>
<rect x="1342.58" y="432.6" width="7.35" height="43" fill="#2E5F75"/>
<rect x="1307.30" y="480.4" width="116.13" height="43" fill="#943168"/>
<rect x="1308.03" y="480.4" width="115.39" height="43" fill="#6E6E6E"/>
<rect x="1308.77" y="480.4" width="114.66" height="43" fill="#273C9D"/>
<rect x="1373.45" y="480.4" width="49.98" height="43" fill="#BC42C0"/>
<rect x="1380.80" y="480.4" width="42.63" height="43" fill="#B04B1E"/>
<rect x="1408.73" y="480.4" width="14.70" height="43" fill="#2E5F75"/>
<rect x="1307.30" y="528.1" width="4.41" height="43" fill="#273C9D"/>
<rect x="1307.30" y="575.9" width="108.78" height="43" fill="#943168"/>
<rect x="1311.71" y="575.9" width="104.37" height="43" fill="#273C9D"/>
<rect x="1373.45" y="575.9" width="42.63" height="43" fill="#BC42C0"/>
<rect x="1382.27" y="575.9" width="33.81" height="43" fill="#B04B1E"/>
<rect x="1405.79" y="575.9" width="10.29" height="43" fill="#2E5F75"/>
<rect x="1307.30" y="623.6" width="102.90" height="43" fill="#943168"/>
<rect x="1308.77" y="623.6" width="101.43" height="43" fill="#273C9D"/>
<rect x="1366.10" y="623.6" width="44.10" height="43" fill="#BC42C0"/>
<rect x="1377.86" y="623.6" width="32.34" height="43" fill="#B04B1E"/>
<rect x="1396.97" y="623.6" width="13.23" height="43" fill="#2E5F75"/>
<rect x="1307.30" y="671.4" width="123.48" height="43" fill="#943168"/>
<rect x="1308.03" y="671.4" width="122.75" height="43" fill="#6E6E6E"/>
<rect x="1308.77" y="671.4" width="122.01" height="43" fill="#273C9D"/>
<rect x="1376.39" y="671.4" width="54.39" height="43" fill="#BC42C0"/>
<rect x="1394.03" y="671.4" width="36.75" height="43" fill="#B04B1E"/>
<rect x="1420.49" y="671.4" width="10.29" height="43" fill="#2E5F75"/>
<rect x="1307.30" y="719.1" width="74.97" height="43" fill="#943168"/>
<rect x="1308.77" y="719.1" width="73.50" height="43" fill="#273C9D"/>
<rect x="1349.93" y="719.1" width="32.34" height="43" fill="#BC42C0"/>
<rect x="1360.22" y="719.1" width="22.05" height="43" fill="#B04B1E"/>
<rect x="1373.45" y="719.1" width="8.82" height="43" fill="#2E5F75"/>
<rect x="1307.30" y="766.8" width="67.62" height="43" fill="#273C9D"/>
<rect x="1354.34" y="766.8" width="20.58" height="43" fill="#BC42C0"/>
<rect x="1364.63" y="766.8" width="10.29" height="43" fill="#B04B1E"/>
<rect x="1369.04" y="766.8" width="5.88" height="43" fill="#2E5F75"/>
<rect x="1307.30" y="814.6" width="110.25" height="43" fill="#943168"/>
<rect x="1310.24" y="814.6" width="107.31" height="43" fill="#273C9D"/>
<rect x="1374.92" y="814.6" width="42.63" height="43" fill="#BC42C0"/>
<rect x="1385.21" y="814.6" width="32.34" height="43" fill="#B04B1E"/>
<rect x="1402.85" y="814.6" width="14.70" height="43" fill="#2E5F75"/>
<rect x="1307.30" y="862.3" width="42.63" height="43" fill="#943168"/>
<rect x="1311.71" y="862.3" width="38.22" height="43" fill="#273C9D"/>
<rect x="1338.17" y="862.3" width="11.76" height="43" fill="#BC42C0"/>
<rect x="1344.05" y="862.3" width="5.88" height="43" fill="#B04B1E"/>
<rect x="1346.99" y="862.3" width="2.94" height="43" fill="#2E5F75"/>
<rect x="1307.30" y="910.1" width="45.57" height="43" fill="#273C9D"/>
<rect x="1341.11" y="910.1" width="11.76" height="43" fill="#BC42C0"/>
<rect x="1344.05" y="910.1" width="8.82" height="43" fill="#B04B1E"/>
<rect x="1346.99" y="910.1" width="5.88" height="43" fill="#2E5F75"/>
<rect x="1307.30" y="957.8" width="2.94" height="43" fill="#273C9D"/>
<rect x="1307.30" y="1005.6" width="41.16" height="43" fill="#273C9D"/>
<rect x="1338.17" y="1005.6" width="10.29" height="43" fill="#BC42C0"/>
<rect x="1342.58" y="1005.6" width="5.88" height="43" fill="#B04B1E"/>
<rect x="1344.05" y="1005.6" width="4.41" height="43" fill="#2E5F75"/>
<rect x="1307.30" y="1053.3" width="14.70" height="43" fill="#273C9D"/>
<rect x="1319.06" y="1053.3" width="2.94" height="43" fill="#B04B1E"/>
<rect x="1320.53" y="1053.3" width="1.47" height="43" fill="#2E5F75"/>
<rect x="1307.30" y="1101" width="1.47" height="43" fill="#273C9D"/>
<rect x="1307.30" y="1148.8" width="27.93" height="43" fill="#273C9D"/>
<rect x="1329.35" y="1148.8" width="5.88" height="43" fill="#B04B1E"/>
<rect x="1332.29" y="1148.8" width="2.94" height="43" fill="#2E5F75"/>
<rect x="1307.30" y="1196.5" width="45.57" height="43" fill="#943168"/>
<rect x="1308.77" y="1196.5" width="44.10" height="43" fill="#273C9D"/>
<rect x="1338.17" y="1196.5" width="14.70" height="43" fill="#BC42C0"/>
<rect x="1342.58" y="1196.5" width="10.29" height="43" fill="#B04B1E"/>
<rect x="1348.46" y="1196.5" width="4.41" height="43" fill="#2E5F75"/>
<rect x="1307.30" y="1244.3" width="8.82" height="43" fill="#273C9D"/>
<rect x="1313.18" y="1244.3" width="2.94" height="43" fill="#BC42C0"/>
<rect x="1314.65" y="1244.3" width="1.47" height="43" fill="#B04B1E"/>
<rect x="1307.30" y="1292" width="7.35" height="43" fill="#943168"/>
<rect x="1308.77" y="1292" width="5.88" height="43" fill="#273C9D"/>
<rect x="1307.30" y="1339.8" width="5.88" height="43" fill="#943168"/>
<rect x="1308.77" y="1339.8" width="4.41" height="43" fill="#273C9D"/>
<rect x="1307.30" y="1387.5" width="1.47" height="43" fill="#273C9D"/>
<rect x="1307.30" y="1435.2" width="411.89" height="43" fill="#943168"/>
<rect x="1351.40" y="1435.2" width="367.79" height="43" fill="#6E6E6E"/>
<rect x="1368.60" y="1435.2" width="350.60" height="43" fill="#273C9D"/>
<rect x="1528.09" y="1435.2" width="191.10" height="43" fill="#BC42C0"/>
<rect x="1572.19" y="1435.2" width="147.00" height="43" fill="#B04B1E"/>
<rect x="1680.97" y="1435.2" width="38.22" height="43" fill="#2E5F75"/>
<rect x="1307.30" y="1483" width="198.45" height="43" fill="#943168"/>
<rect x="1341.11" y="1483" width="164.64" height="43" fill="#6E6E6E"/>
<rect x="1357.28" y="1483" width="148.47" height="43" fill="#273C9D"/>
<rect x="1448.42" y="1483" width="57.33" height="43" fill="#BC42C0"/>
<rect x="1463.12" y="1483" width="42.63" height="43" fill="#B04B1E"/>
<rect x="1485.17" y="1483" width="20.58" height="43" fill="#2E5F75"/>
<rect x="1307.30" y="1530.7" width="2.94" height="43" fill="#943168"/>
<rect x="1308.77" y="1530.7" width="1.47" height="43" fill="#273C9D"/>
<rect x="1307.30" y="1578.5" width="2.94" height="43" fill="#943168"/>
<rect x="1308.77" y="1578.5" width="1.47" height="43" fill="#273C9D"/>
<rect x="1307.30" y="1626.2" width="7.35" height="43" fill="#943168"/>
<rect x="1310.24" y="1626.2" width="4.41" height="43" fill="#273C9D"/>
<rect x="1307.30" y="1674" width="10.41" height="43" fill="#943168"/>
<rect x="1311.71" y="1674" width="6.00" height="43" fill="#6E6E6E"/>
<rect x="1313.30" y="1674" width="4.41" height="43" fill="#273C9D"/>
<rect x="1307.30" y="1721.7" width="1.47" height="43" fill="#943168"/>
<rect x="1307.30" y="1769.4" width="11.76" height="43" fill="#943168"/>
<rect x="1310.24" y="1769.4" width="8.82" height="43" fill="#273C9D"/>
<rect x="1317.59" y="1769.4" width="1.47" height="43" fill="#2E5F75"/>
<path d="M1248.5,1819.5 H1718.8" stroke="#000" stroke-width="2.9" fill="none"/>
<path d="M1307.3,1819.5 v8.4" stroke="#333" stroke-width="2.9" fill="none"/>
<text class="t" x="1307.3" y="1853.9">0</text>
<path d="M1454.3,1819.5 v8.4" stroke="#333" stroke-width="2.9" fill="none"/>
<text class="t" x="1454.3" y="1853.9">100</text>
<path d="M1601.3,1819.5 v8.4" stroke="#333" stroke-width="2.9" fill="none"/>
<text class="t" x="1601.3" y="1853.9">200</text>
<text class="b" style="font-size:32.85px" x="1483.5" y="1891.3">Number of plant species</text>
<rect x="221.2" y="1951.7" width="46.4" height="47.2" fill="#56B4E9"/>
<text class="s" x="286.7" y="1984.4">Dabbling ducks</text>
<rect x="485.7" y="1951.7" width="46.4" height="47.2" fill="#0072B2"/>
<text class="s" x="552" y="1984.4">Diving ducks</text>
<rect x="721" y="1951.7" width="46.4" height="47.2" fill="#009E73"/>
<text class="s" x="787.3" y="1984.4">Geese</text>
<rect x="884.2" y="1951.7" width="46.4" height="47.2" fill="#D55E00"/>
<text class="s" x="949.7" y="1984.4">Sea ducks</text>
<rect x="1094.2" y="1951.7" width="46.4" height="47.2" fill="#CC79A7"/>
<text class="s" x="1160" y="1984.4">Swans</text>
<rect x="1264.7" y="1951.7" width="46.4" height="47.2" fill="#E69F00"/>
<text class="s" x="1331" y="1984.4">Whistling ducks</text>
</g></svg></body></html>
